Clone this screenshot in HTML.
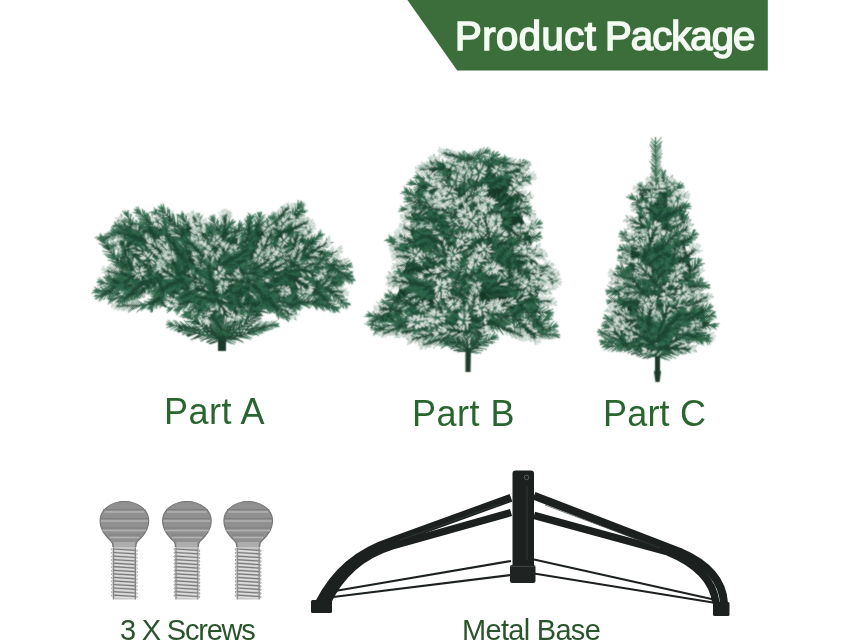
<!DOCTYPE html>
<html><head><meta charset="utf-8"><style>
html,body{margin:0;padding:0;width:857px;height:643px;overflow:hidden;background:#fff}
.t{position:absolute;font-family:"Liberation Sans",sans-serif;white-space:nowrap;line-height:1;will-change:transform}
svg{position:absolute;left:0;top:0}
</style></head><body>
<svg width="857" height="643" viewBox="0 0 857 643">
<defs><filter id="soft" filterUnits="userSpaceOnUse" x="0" y="100" width="857" height="300"><feConvolveMatrix order="3" kernelMatrix="1 2 1 2 8 2 1 2 1" divisor="20" edgeMode="none" preserveAlpha="false"/></filter><symbol id="n220" overflow="visible"><path d="M0,0L22,0M0.5,0.3l4.2,-2.7M0.5,0.1l4.1,2.7M2.5,0.2l4.2,-2.9M2.5,-0.3l4,1.9M5.1,0.4l3.1,-2.5M5.1,0.1l3.5,3.5M7.1,-0.4l4.3,-1.8M7.1,-0.4l3.7,1.9M9.3,0l4.2,-2.7M9.3,-0.2l3.5,2.7M12.1,-0.1l3.4,-3M12.1,-0.1l4.2,1.9M14.8,-0.2l2.3,-2.1M14.8,-0.3l2.6,2.6M16.9,0.4l3,-1.4M16.9,-0.4l2.7,1.4M19.3,0.2l2.4,-1.5M19.3,-0.2l2.8,1.3M21.8,-0.2l2.7,-1.5M21.8,0.4l1.8,1.4" stroke="#1b4431" stroke-width="0.9" fill="none"/><path d="M4.2,-2.1l4.6,-3M4.2,2.5l4.5,3M6.3,-2.4l4.6,-3.2M6.2,1.4l4.5,2.1M7.8,-1.8l3.4,-2.7M8.3,3.3l3.9,3.9M10.9,-2l4.7,-2M10.4,1.3l4.1,2.1M13.2,-2.5l4.6,-3M12.5,2.3l3.8,3M15.1,-2.9l3.7,-3.3M15.9,1.6l4.6,2.1M16.9,-2.1l2.5,-2.3M17.2,2l2.9,2.9M19.6,-0.9l3.3,-1.5M19.3,1l2.9,1.6M21.4,-1.2l2.6,-1.7M21.8,1l3.1,1.5M24.3,-1.6l3,-1.7M23.5,1.7l2,1.5M20,0l4.1,-0.9M20,0l2.9,-1.6M20,0l4,0.4M20,0l4.5,0.5M20,0l6.8,-0.4M20,0l5.3,-0.1M20,0l3.4,1.6M20,0l6.1,-2.7" stroke="#316a4d" stroke-width="0.8" fill="none"/></symbol><symbol id="k220" overflow="visible"><path d="M0,0L22,0M0.5,0.3l4.2,-2.7M0.5,0.1l4.1,2.7M2.5,0.2l4.2,-2.9M2.5,-0.3l4,1.9M5.1,0.4l3.1,-2.5M5.1,0.1l3.5,3.5M7.1,-0.4l4.3,-1.8M7.1,-0.4l3.7,1.9M9.3,0l4.2,-2.7M9.3,-0.2l3.5,2.7M12.1,-0.1l3.4,-3M12.1,-0.1l4.2,1.9M14.8,-0.2l2.3,-2.1M14.8,-0.3l2.6,2.6M16.9,0.4l3,-1.4M16.9,-0.4l2.7,1.4M19.3,0.2l2.4,-1.5M19.3,-0.2l2.8,1.3M21.8,-0.2l2.7,-1.5M21.8,0.4l1.8,1.4M4.2,-2.1l4.6,-3M4.2,2.5l4.5,3M6.3,-2.4l4.6,-3.2M6.2,1.4l4.5,2.1M7.8,-1.8l3.4,-2.7M8.3,3.3l3.9,3.9M10.9,-2l4.7,-2M10.4,1.3l4.1,2.1M13.2,-2.5l4.6,-3M12.5,2.3l3.8,3M15.1,-2.9l3.7,-3.3M15.9,1.6l4.6,2.1M16.9,-2.1l2.5,-2.3M17.2,2l2.9,2.9M19.6,-0.9l3.3,-1.5M19.3,1l2.9,1.6M21.4,-1.2l2.6,-1.7M21.8,1l3.1,1.5M24.3,-1.6l3,-1.7M23.5,1.7l2,1.5M20,0l4.1,-0.9M20,0l2.9,-1.6M20,0l4,0.4M20,0l4.5,0.5M20,0l6.8,-0.4M20,0l5.3,-0.1M20,0l3.4,1.6M20,0l6.1,-2.7" stroke="#1b4431" stroke-width="0.85" fill="none"/></symbol><symbol id="f220" overflow="visible"><path d="M0,0L22,0M0.5,0.3l4.2,-2.7M0.5,0.1l4.1,2.7M2.5,0.2l4.2,-2.9M2.5,-0.3l4,1.9M5.1,0.4l3.1,-2.5M5.1,0.1l3.5,3.5M7.1,-0.4l4.3,-1.8M7.1,-0.4l3.7,1.9M9.3,0l4.2,-2.7M9.3,-0.2l3.5,2.7M12.1,-0.1l3.4,-3M12.1,-0.1l4.2,1.9M14.8,-0.2l2.3,-2.1M14.8,-0.3l2.6,2.6M16.9,0.4l3,-1.4M16.9,-0.4l2.7,1.4M19.3,0.2l2.4,-1.5M19.3,-0.2l2.8,1.3M21.8,-0.2l2.7,-1.5M21.8,0.4l1.8,1.4" stroke="#1b4431" stroke-width="0.9" fill="none"/><path d="M4.2,-2.1l4.6,-3M4.2,2.5l4.5,3M6.3,-2.4l4.6,-3.2M6.2,1.4l4.5,2.1M7.8,-1.8l3.4,-2.7M8.3,3.3l3.9,3.9M10.9,-2l4.7,-2M10.4,1.3l4.1,2.1M13.2,-2.5l4.6,-3M12.5,2.3l3.8,3M15.1,-2.9l3.7,-3.3M15.9,1.6l4.6,2.1M16.9,-2.1l2.5,-2.3M17.2,2l2.9,2.9M19.6,-0.9l3.3,-1.5M19.3,1l2.9,1.6M21.4,-1.2l2.6,-1.7M21.8,1l3.1,1.5M24.3,-1.6l3,-1.7M23.5,1.7l2,1.5M20,0l4.1,-0.9M20,0l2.9,-1.6M20,0l4,0.4M20,0l4.5,0.5M20,0l6.8,-0.4M20,0l5.3,-0.1M20,0l3.4,1.6M20,0l6.1,-2.7" stroke="#316a4d" stroke-width="0.8" fill="none"/><path d="M12.9,-2.3l4.9,-3.2M14.6,-2.4l4.2,-3.8M15.4,1.4l5.1,2.3M16.8,-2l2.7,-2.5M17.4,2.3l2.6,2.7M18.9,-0.6l4.1,-1.9M18.7,0.6l3.5,1.9M21.4,-1.2l2.5,-1.7M22.3,1.2l2.5,1.2M24.6,-1.8l2.6,-1.5M23.2,1.4l2.3,1.8M21.4,-0.3l2.7,-0.6M21,-0.6l1.9,-1.1M21.4,0.1l2.6,0.3M21.6,0.2l2.9,0.4M22.4,-0.1l4.4,-0.2M21.9,-0l3.4,-0.1M21.2,0.6l2.2,1M22.1,-0.9l3.9,-1.7" stroke="#dce5e0" stroke-width="0.9" fill="none"/></symbol><symbol id="n221" overflow="visible"><path d="M0,0L22,0M0.5,-0.2l3.3,-2.9M0.5,-0.2l4.3,3.6M3.2,-0.1l3.6,-3.4M3.2,0.4l3.6,1.7M5.3,0.3l3.3,-2.7M5.3,-0.3l3.5,2.6M7.8,0l3.7,-1.7M7.8,-0.2l3.5,3.2M10.5,-0.2l3.2,-1.7M10.5,0.1l3.7,1.9M13.1,0.2l3,-3.1M13.1,0.3l3.1,1.3M15,0.2l3,-2.3M15,0.2l3.6,1.6M17.5,-0.1l3,-2.6M17.5,0.2l2.5,2.3M19.9,0.1l2.7,-1.7M19.9,0.2l2.5,2.5" stroke="#1b4431" stroke-width="0.9" fill="none"/><path d="M3.5,-2.9l3.6,-3.2M4.4,3l4.8,4M6.5,-3.1l4,-3.8M6.4,1.9l3.9,1.9M8.3,-2.2l3.7,-3M8.4,2.1l3.9,2.9M11.1,-1.5l4.1,-1.9M11,2.7l3.9,3.6M13.3,-1.7l3.5,-1.8M13.8,1.7l4.1,2.1M15.9,-2.6l3.3,-3.4M15.9,1.5l3.4,1.5M17.7,-1.9l3.3,-2.6M18.2,1.7l3.9,1.8M20.2,-2.5l3.3,-2.9M19.7,2.3l2.7,2.5M22.3,-1.4l3,-1.8M22.1,2.4l2.7,2.8M20,0l6.3,-0.5M20,0l5.3,-2.9M20,0l4.6,-2.9M20,0l3.9,-0.1M20,0l4.8,1.2M20,0l6.6,0.9M20,0l2.9,-0.9M20,0l5.6,-1.4" stroke="#316a4d" stroke-width="0.8" fill="none"/></symbol><symbol id="k221" overflow="visible"><path d="M0,0L22,0M0.5,-0.2l3.3,-2.9M0.5,-0.2l4.3,3.6M3.2,-0.1l3.6,-3.4M3.2,0.4l3.6,1.7M5.3,0.3l3.3,-2.7M5.3,-0.3l3.5,2.6M7.8,0l3.7,-1.7M7.8,-0.2l3.5,3.2M10.5,-0.2l3.2,-1.7M10.5,0.1l3.7,1.9M13.1,0.2l3,-3.1M13.1,0.3l3.1,1.3M15,0.2l3,-2.3M15,0.2l3.6,1.6M17.5,-0.1l3,-2.6M17.5,0.2l2.5,2.3M19.9,0.1l2.7,-1.7M19.9,0.2l2.5,2.5M3.5,-2.9l3.6,-3.2M4.4,3l4.8,4M6.5,-3.1l4,-3.8M6.4,1.9l3.9,1.9M8.3,-2.2l3.7,-3M8.4,2.1l3.9,2.9M11.1,-1.5l4.1,-1.9M11,2.7l3.9,3.6M13.3,-1.7l3.5,-1.8M13.8,1.7l4.1,2.1M15.9,-2.6l3.3,-3.4M15.9,1.5l3.4,1.5M17.7,-1.9l3.3,-2.6M18.2,1.7l3.9,1.8M20.2,-2.5l3.3,-2.9M19.7,2.3l2.7,2.5M22.3,-1.4l3,-1.8M22.1,2.4l2.7,2.8M20,0l6.3,-0.5M20,0l5.3,-2.9M20,0l4.6,-2.9M20,0l3.9,-0.1M20,0l4.8,1.2M20,0l6.6,0.9M20,0l2.9,-0.9M20,0l5.6,-1.4" stroke="#1b4431" stroke-width="0.85" fill="none"/></symbol><symbol id="f221" overflow="visible"><path d="M0,0L22,0M0.5,-0.2l3.3,-2.9M0.5,-0.2l4.3,3.6M3.2,-0.1l3.6,-3.4M3.2,0.4l3.6,1.7M5.3,0.3l3.3,-2.7M5.3,-0.3l3.5,2.6M7.8,0l3.7,-1.7M7.8,-0.2l3.5,3.2M10.5,-0.2l3.2,-1.7M10.5,0.1l3.7,1.9M13.1,0.2l3,-3.1M13.1,0.3l3.1,1.3M15,0.2l3,-2.3M15,0.2l3.6,1.6M17.5,-0.1l3,-2.6M17.5,0.2l2.5,2.3M19.9,0.1l2.7,-1.7M19.9,0.2l2.5,2.5" stroke="#1b4431" stroke-width="0.9" fill="none"/><path d="M3.5,-2.9l3.6,-3.2M4.4,3l4.8,4M6.5,-3.1l4,-3.8M6.4,1.9l3.9,1.9M8.3,-2.2l3.7,-3M8.4,2.1l3.9,2.9M11.1,-1.5l4.1,-1.9M11,2.7l3.9,3.6M13.3,-1.7l3.5,-1.8M13.8,1.7l4.1,2.1M15.9,-2.6l3.3,-3.4M15.9,1.5l3.4,1.5M17.7,-1.9l3.3,-2.6M18.2,1.7l3.9,1.8M20.2,-2.5l3.3,-2.9M19.7,2.3l2.7,2.5M22.3,-1.4l3,-1.8M22.1,2.4l2.7,2.8M20,0l6.3,-0.5M20,0l5.3,-2.9M20,0l4.6,-2.9M20,0l3.9,-0.1M20,0l4.8,1.2M20,0l6.6,0.9M20,0l2.9,-0.9M20,0l5.6,-1.4" stroke="#316a4d" stroke-width="0.8" fill="none"/><path d="M12.5,-1.2l4.3,-2.3M13.3,1.5l4.5,2.3M15.2,-1.9l4,-4.1M16.4,1.8l2.8,1.2M18.3,-2.4l2.7,-2.1M18.4,1.8l3.7,1.7M20.7,-2.9l2.9,-2.5M19.7,2.3l2.7,2.6M22.4,-1.4l2.9,-1.8M22.3,2.6l2.5,2.6M22.2,-0.2l4.1,-0.3M21.8,-1l3.4,-1.9M21.6,-1l3,-1.9M21.4,-0l2.5,-0.1M21.7,0.4l3.2,0.8M22.3,0.3l4.3,0.6M21,-0.3l1.9,-0.6M21.9,-0.5l3.6,-0.9" stroke="#dce5e0" stroke-width="0.9" fill="none"/></symbol><symbol id="n300" overflow="visible"><path d="M0,0L30,0M0.5,0.3l3.8,-2M0.5,0.3l3.7,2.9M2.6,-0.1l3.4,-2.7M2.6,0.3l4.2,3.7M4.8,-0.3l3.6,-2.6M4.8,0.3l4.5,3M7.3,-0.3l3.1,-3M7.3,-0.2l3.6,2.4M9.5,-0.1l3.7,-2.8M9.5,-0l4.1,3.7M11.5,-0.4l4.7,-2.1M11.5,-0.4l4.4,2.5M13.3,-0.3l3,-2.7M13.3,0.1l3.9,2.5M15.8,-0.3l3.7,-1.9M15.8,-0.2l2.9,2.4M18.1,-0.1l3.6,-2.7M18.1,0.2l4.3,2M20.5,0.1l2.6,-2.5M20.5,0.1l2.7,2.7M23.1,-0.2l3.1,-2.4M23.1,0.2l2.5,2.6M25.7,-0l2.3,-1.4M25.7,0.2l2.2,1.5M27.7,-0.3l2.9,-1.7M27.7,0.2l2.6,2.1" stroke="#1b4431" stroke-width="0.9" fill="none"/><path d="M3.9,-1.4l4.1,-2.2M3.9,2.9l4.1,3.2M5.7,-2.4l3.7,-2.9M6.4,3.6l4.6,4.1M8.1,-2.7l4,-2.9M8.9,3l4.9,3.4M10.1,-3l3.4,-3.3M10.6,1.9l4,2.6M12.9,-2.7l4,-3.1M13.2,3.3l4.5,4M15.7,-2.2l5.2,-2.3M15.4,1.9l4.8,2.8M16,-2.7l3.3,-2.9M16.8,2.4l4.3,2.8M19.2,-2l4.1,-2.1M18.4,1.9l3.2,2.6M21.3,-2.5l3.9,-2.9M22,2l4.7,2.2M22.9,-2.2l2.9,-2.8M22.9,2.5l3,2.9M25.9,-2.3l3.4,-2.6M25.4,2.5l2.8,2.8M27.9,-1.3l2.6,-1.5M27.7,1.6l2.4,1.6M30.3,-1.8l3.1,-1.9M30.1,2.1l2.9,2.4M28,0l3.4,-1.9M28,0l4.2,0.1M28,0l5.3,1.5M28,0l6.4,0.2M28,0l4.2,0.3M28,0l6.3,-0.9M28,0l3.4,1.8M28,0l6.3,2.8" stroke="#316a4d" stroke-width="0.8" fill="none"/></symbol><symbol id="k300" overflow="visible"><path d="M0,0L30,0M0.5,0.3l3.8,-2M0.5,0.3l3.7,2.9M2.6,-0.1l3.4,-2.7M2.6,0.3l4.2,3.7M4.8,-0.3l3.6,-2.6M4.8,0.3l4.5,3M7.3,-0.3l3.1,-3M7.3,-0.2l3.6,2.4M9.5,-0.1l3.7,-2.8M9.5,-0l4.1,3.7M11.5,-0.4l4.7,-2.1M11.5,-0.4l4.4,2.5M13.3,-0.3l3,-2.7M13.3,0.1l3.9,2.5M15.8,-0.3l3.7,-1.9M15.8,-0.2l2.9,2.4M18.1,-0.1l3.6,-2.7M18.1,0.2l4.3,2M20.5,0.1l2.6,-2.5M20.5,0.1l2.7,2.7M23.1,-0.2l3.1,-2.4M23.1,0.2l2.5,2.6M25.7,-0l2.3,-1.4M25.7,0.2l2.2,1.5M27.7,-0.3l2.9,-1.7M27.7,0.2l2.6,2.1M3.9,-1.4l4.1,-2.2M3.9,2.9l4.1,3.2M5.7,-2.4l3.7,-2.9M6.4,3.6l4.6,4.1M8.1,-2.7l4,-2.9M8.9,3l4.9,3.4M10.1,-3l3.4,-3.3M10.6,1.9l4,2.6M12.9,-2.7l4,-3.1M13.2,3.3l4.5,4M15.7,-2.2l5.2,-2.3M15.4,1.9l4.8,2.8M16,-2.7l3.3,-2.9M16.8,2.4l4.3,2.8M19.2,-2l4.1,-2.1M18.4,1.9l3.2,2.6M21.3,-2.5l3.9,-2.9M22,2l4.7,2.2M22.9,-2.2l2.9,-2.8M22.9,2.5l3,2.9M25.9,-2.3l3.4,-2.6M25.4,2.5l2.8,2.8M27.9,-1.3l2.6,-1.5M27.7,1.6l2.4,1.6M30.3,-1.8l3.1,-1.9M30.1,2.1l2.9,2.4M28,0l3.4,-1.9M28,0l4.2,0.1M28,0l5.3,1.5M28,0l6.4,0.2M28,0l4.2,0.3M28,0l6.3,-0.9M28,0l3.4,1.8M28,0l6.3,2.8" stroke="#1b4431" stroke-width="0.85" fill="none"/></symbol><symbol id="f300" overflow="visible"><path d="M0,0L30,0M0.5,0.3l3.8,-2M0.5,0.3l3.7,2.9M2.6,-0.1l3.4,-2.7M2.6,0.3l4.2,3.7M4.8,-0.3l3.6,-2.6M4.8,0.3l4.5,3M7.3,-0.3l3.1,-3M7.3,-0.2l3.6,2.4M9.5,-0.1l3.7,-2.8M9.5,-0l4.1,3.7M11.5,-0.4l4.7,-2.1M11.5,-0.4l4.4,2.5M13.3,-0.3l3,-2.7M13.3,0.1l3.9,2.5M15.8,-0.3l3.7,-1.9M15.8,-0.2l2.9,2.4M18.1,-0.1l3.6,-2.7M18.1,0.2l4.3,2M20.5,0.1l2.6,-2.5M20.5,0.1l2.7,2.7M23.1,-0.2l3.1,-2.4M23.1,0.2l2.5,2.6M25.7,-0l2.3,-1.4M25.7,0.2l2.2,1.5M27.7,-0.3l2.9,-1.7M27.7,0.2l2.6,2.1" stroke="#1b4431" stroke-width="0.9" fill="none"/><path d="M3.9,-1.4l4.1,-2.2M3.9,2.9l4.1,3.2M5.7,-2.4l3.7,-2.9M6.4,3.6l4.6,4.1M8.1,-2.7l4,-2.9M8.9,3l4.9,3.4M10.1,-3l3.4,-3.3M10.6,1.9l4,2.6M12.9,-2.7l4,-3.1M13.2,3.3l4.5,4M15.7,-2.2l5.2,-2.3M15.4,1.9l4.8,2.8M16,-2.7l3.3,-2.9M16.8,2.4l4.3,2.8M19.2,-2l4.1,-2.1M18.4,1.9l3.2,2.6M21.3,-2.5l3.9,-2.9M22,2l4.7,2.2M22.9,-2.2l2.9,-2.8M22.9,2.5l3,2.9M25.9,-2.3l3.4,-2.6M25.4,2.5l2.8,2.8M27.9,-1.3l2.6,-1.5M27.7,1.6l2.4,1.6M30.3,-1.8l3.1,-1.9M30.1,2.1l2.9,2.4M28,0l3.4,-1.9M28,0l4.2,0.1M28,0l5.3,1.5M28,0l6.4,0.2M28,0l4.2,0.3M28,0l6.3,-0.9M28,0l3.4,1.8M28,0l6.3,2.8" stroke="#316a4d" stroke-width="0.8" fill="none"/><path d="M15.7,-2.2l5.3,-2.3M15.1,1.7l5.1,3M16,-2.7l3.2,-2.9M17.5,2.9l3.6,2.3M18.9,-1.9l4.3,-2.3M18.5,2.1l3,2.5M21.9,-2.9l3.4,-2.5M21.7,1.8l5,2.3M23.2,-2.5l2.6,-2.5M23.1,2.7l2.8,2.8M26.4,-2.8l2.8,-2.1M25.8,2.9l2.4,2.4M28.1,-1.4l2.4,-1.4M28,1.7l2.2,1.5M30.2,-1.7l3.3,-1.9M29.9,2l3,2.5M29.2,-0.6l2.2,-1.2M29.5,0l2.7,0.1M29.9,0.5l3.5,1M30.2,0.1l4.1,0.1M29.5,0.1l2.8,0.2M30.2,-0.3l4.1,-0.6M29.2,0.6l2.2,1.2M30.2,1l4.1,1.8" stroke="#dce5e0" stroke-width="0.9" fill="none"/></symbol><symbol id="n301" overflow="visible"><path d="M0,0L30,0M0.5,-0.2l4.1,-2.9M0.5,0.1l4,2.8M2.4,-0.1l3.4,-3.5M2.4,-0l3.7,3.3M4.8,-0.1l4.4,-2M4.8,-0.2l3.9,3.9M7.1,0.3l4.2,-2M7.1,-0.1l3.4,3.2M9.1,-0.3l4.3,-3.3M9.1,-0.2l2.9,2.5M11.2,-0.1l3.3,-2.7M11.2,0.2l3.1,2.3M13.1,-0.2l3.3,-2.3M13.1,0l3.7,2.2M15.6,0.3l3.4,-2.6M15.6,0.2l4.1,2.2M17.7,0.4l2.6,-2.5M17.7,-0.2l3.9,2.1M19.9,-0.1l2.5,-2.2M19.9,0.3l3.7,1.9M21.9,0l3.3,-2.3M21.9,-0.4l2.9,1.3M24.2,-0.2l2.7,-1.3M24.2,-0.4l2.1,2M26.5,-0l2.2,-1.9M26.5,0.2l2.1,1.5M28.7,-0.2l2.1,-1.8M28.7,0.2l3,1.3" stroke="#1b4431" stroke-width="0.9" fill="none"/><path d="M4.2,-2.8l4.5,-3.1M4.1,2.6l4.4,3.1M5.5,-3.2l3.8,-3.8M5.7,2.9l4.1,3.6M8.8,-1.9l4.9,-2.2M8.4,3.3l4.3,4.3M10.9,-1.6l4.6,-2.2M10.2,2.8l3.7,3.6M13,-3.2l4.7,-3.6M11.7,2l3.2,2.7M14.2,-2.5l3.6,-2.9M14,2.3l3.4,2.6M16.1,-2.3l3.6,-2.5M16.4,2l4,2.5M18.6,-2.1l3.8,-2.9M19.2,2.2l4.5,2.4M20.1,-1.9l2.9,-2.8M21.2,1.7l4.3,2.3M22.2,-2.1l2.8,-2.4M23.2,2.1l4.1,2.1M24.9,-2.1l3.7,-2.5M24.4,0.8l3.1,1.4M26.7,-1.4l3,-1.5M26.1,1.5l2.3,2.2M28.5,-1.7l2.5,-2.1M28.3,1.5l2.3,1.7M30.6,-1.8l2.3,-1.9M31.5,1.4l3.3,1.4M28,0l5.4,-0.6M28,0l6.9,0M28,0l3.8,1.4M28,0l5.3,2.8M28,0l5.9,2M28,0l6.5,-0.7M28,0l5.2,2.5M28,0l5.8,1.9" stroke="#316a4d" stroke-width="0.8" fill="none"/></symbol><symbol id="k301" overflow="visible"><path d="M0,0L30,0M0.5,-0.2l4.1,-2.9M0.5,0.1l4,2.8M2.4,-0.1l3.4,-3.5M2.4,-0l3.7,3.3M4.8,-0.1l4.4,-2M4.8,-0.2l3.9,3.9M7.1,0.3l4.2,-2M7.1,-0.1l3.4,3.2M9.1,-0.3l4.3,-3.3M9.1,-0.2l2.9,2.5M11.2,-0.1l3.3,-2.7M11.2,0.2l3.1,2.3M13.1,-0.2l3.3,-2.3M13.1,0l3.7,2.2M15.6,0.3l3.4,-2.6M15.6,0.2l4.1,2.2M17.7,0.4l2.6,-2.5M17.7,-0.2l3.9,2.1M19.9,-0.1l2.5,-2.2M19.9,0.3l3.7,1.9M21.9,0l3.3,-2.3M21.9,-0.4l2.9,1.3M24.2,-0.2l2.7,-1.3M24.2,-0.4l2.1,2M26.5,-0l2.2,-1.9M26.5,0.2l2.1,1.5M28.7,-0.2l2.1,-1.8M28.7,0.2l3,1.3M4.2,-2.8l4.5,-3.1M4.1,2.6l4.4,3.1M5.5,-3.2l3.8,-3.8M5.7,2.9l4.1,3.6M8.8,-1.9l4.9,-2.2M8.4,3.3l4.3,4.3M10.9,-1.6l4.6,-2.2M10.2,2.8l3.7,3.6M13,-3.2l4.7,-3.6M11.7,2l3.2,2.7M14.2,-2.5l3.6,-2.9M14,2.3l3.4,2.6M16.1,-2.3l3.6,-2.5M16.4,2l4,2.5M18.6,-2.1l3.8,-2.9M19.2,2.2l4.5,2.4M20.1,-1.9l2.9,-2.8M21.2,1.7l4.3,2.3M22.2,-2.1l2.8,-2.4M23.2,2.1l4.1,2.1M24.9,-2.1l3.7,-2.5M24.4,0.8l3.1,1.4M26.7,-1.4l3,-1.5M26.1,1.5l2.3,2.2M28.5,-1.7l2.5,-2.1M28.3,1.5l2.3,1.7M30.6,-1.8l2.3,-1.9M31.5,1.4l3.3,1.4M28,0l5.4,-0.6M28,0l6.9,0M28,0l3.8,1.4M28,0l5.3,2.8M28,0l5.9,2M28,0l6.5,-0.7M28,0l5.2,2.5M28,0l5.8,1.9" stroke="#1b4431" stroke-width="0.85" fill="none"/></symbol><symbol id="f301" overflow="visible"><path d="M0,0L30,0M0.5,-0.2l4.1,-2.9M0.5,0.1l4,2.8M2.4,-0.1l3.4,-3.5M2.4,-0l3.7,3.3M4.8,-0.1l4.4,-2M4.8,-0.2l3.9,3.9M7.1,0.3l4.2,-2M7.1,-0.1l3.4,3.2M9.1,-0.3l4.3,-3.3M9.1,-0.2l2.9,2.5M11.2,-0.1l3.3,-2.7M11.2,0.2l3.1,2.3M13.1,-0.2l3.3,-2.3M13.1,0l3.7,2.2M15.6,0.3l3.4,-2.6M15.6,0.2l4.1,2.2M17.7,0.4l2.6,-2.5M17.7,-0.2l3.9,2.1M19.9,-0.1l2.5,-2.2M19.9,0.3l3.7,1.9M21.9,0l3.3,-2.3M21.9,-0.4l2.9,1.3M24.2,-0.2l2.7,-1.3M24.2,-0.4l2.1,2M26.5,-0l2.2,-1.9M26.5,0.2l2.1,1.5M28.7,-0.2l2.1,-1.8M28.7,0.2l3,1.3" stroke="#1b4431" stroke-width="0.9" fill="none"/><path d="M4.2,-2.8l4.5,-3.1M4.1,2.6l4.4,3.1M5.5,-3.2l3.8,-3.8M5.7,2.9l4.1,3.6M8.8,-1.9l4.9,-2.2M8.4,3.3l4.3,4.3M10.9,-1.6l4.6,-2.2M10.2,2.8l3.7,3.6M13,-3.2l4.7,-3.6M11.7,2l3.2,2.7M14.2,-2.5l3.6,-2.9M14,2.3l3.4,2.6M16.1,-2.3l3.6,-2.5M16.4,2l4,2.5M18.6,-2.1l3.8,-2.9M19.2,2.2l4.5,2.4M20.1,-1.9l2.9,-2.8M21.2,1.7l4.3,2.3M22.2,-2.1l2.8,-2.4M23.2,2.1l4.1,2.1M24.9,-2.1l3.7,-2.5M24.4,0.8l3.1,1.4M26.7,-1.4l3,-1.5M26.1,1.5l2.3,2.2M28.5,-1.7l2.5,-2.1M28.3,1.5l2.3,1.7M30.6,-1.8l2.3,-1.9M31.5,1.4l3.3,1.4M28,0l5.4,-0.6M28,0l6.9,0M28,0l3.8,1.4M28,0l5.3,2.8M28,0l5.9,2M28,0l6.5,-0.7M28,0l5.2,2.5M28,0l5.8,1.9" stroke="#316a4d" stroke-width="0.8" fill="none"/><path d="M15.8,-2.1l3.9,-2.7M15.7,1.6l4.7,2.9M19.1,-2.4l3.3,-2.6M18.7,1.9l5.1,2.7M19.4,-1.3l3.5,-3.4M21.7,2l3.8,2.1M21.4,-1.4l3.5,-3.1M24.2,-1.6l4.4,-3M24.3,0.7l3.3,1.5M27.2,-1.7l2.5,-1.2M28.3,-1.6l2.7,-2.3M27.9,1.2l2.7,2M30.6,-1.8l2.4,-2M31.8,1.6l2.9,1.3M29.9,-0.2l3.5,-0.4M30.4,0l4.5,0M29.3,0.5l2.4,0.9M29.8,1l3.4,1.8M30.1,0.7l3.8,1.3M30.3,-0.3l4.3,-0.5M29.8,0.9l3.4,1.7M30,0.7l3.7,1.2" stroke="#dce5e0" stroke-width="0.9" fill="none"/></symbol><symbol id="n380" overflow="visible"><path d="M0,0L38,0M0.5,-0.3l4.5,-2.8M0.5,-0.4l4.1,2.5M2.7,-0.2l4,-3.1M2.7,-0.1l3.7,3.6M5.1,-0.1l3.9,-2.9M5.1,0.2l3.5,3.6M7.7,0.1l2.7,-2.8M7.7,-0.1l3.3,2.8M9.5,-0.3l4,-2.1M9.5,0l4.8,2.6M11.8,0.4l3.4,-3.4M11.8,-0.3l4.1,3.2M14.2,0.3l2.9,-2.4M14.2,-0.3l4,2M16.5,0.4l3,-2.2M16.5,-0.2l3.4,2.5M18.6,-0.4l3.1,-2.5M18.6,-0.1l4.2,2.1M20.5,-0.3l3.4,-3.5M20.5,-0.2l4.1,2.8M23,0.3l4,-2.7M23,-0.2l3.2,2.4M25,-0l3.5,-2.3M25,0l3.6,2.3M27.7,-0.3l2.6,-2.1M27.7,-0.2l2.8,2.1M30.1,-0.2l3,-2.3M30.1,-0.4l2.9,2.8M32.3,0l2.2,-1.7M32.3,0.1l2.6,2.1M34.3,0.3l2.9,-1.7M34.3,0.2l2.4,2.1M36.4,0.1l2,-1.8M36.4,0.2l2.5,1.5" stroke="#1b4431" stroke-width="0.9" fill="none"/><path d="M4.5,-2.9l4.9,-3.1M4.2,1.8l4.5,2.7M6.3,-3l4.4,-3.4M6,3.1l4,4M8.7,-2.7l4.3,-3.2M8.3,3.4l3.9,4M10.1,-2.4l3,-3.1M10.6,2.4l3.7,3.1M13.1,-2.2l4.4,-2.3M13.8,2.4l5.3,2.9M14.9,-2.6l3.7,-3.7M15.6,2.5l4.5,3.5M16.8,-1.8l3.2,-2.7M17.9,1.5l4.4,2.2M19.2,-1.6l3.3,-2.4M19.6,2.1l3.7,2.8M21.4,-2.7l3.4,-2.8M22.5,1.8l4.7,2.3M23.6,-3.5l3.8,-3.9M24.2,2.3l4.5,3M26.6,-2.1l4.4,-2.9M25.9,1.9l3.5,2.7M28.1,-2.1l3.8,-2.5M28.3,2.1l4,2.6M30,-2.2l2.8,-2.3M30.2,1.7l3.1,2.3M32.8,-2.3l3.3,-2.6M32.7,2.1l3.2,3M34.3,-1.5l2.4,-1.9M34.7,2l2.9,2.3M36.9,-1.3l3.2,-1.9M36.5,2.1l2.6,2.3M38.2,-1.5l2.2,-2M38.7,1.5l2.8,1.6M36,0l5.8,-3M36,0l2.9,-1.6M36,0l4.9,0.4M36,0l4.1,0.9M36,0l3.1,1.1M36,0l5.3,-1.9M36,0l3.7,-2M36,0l5.6,1.5" stroke="#316a4d" stroke-width="0.8" fill="none"/></symbol><symbol id="k380" overflow="visible"><path d="M0,0L38,0M0.5,-0.3l4.5,-2.8M0.5,-0.4l4.1,2.5M2.7,-0.2l4,-3.1M2.7,-0.1l3.7,3.6M5.1,-0.1l3.9,-2.9M5.1,0.2l3.5,3.6M7.7,0.1l2.7,-2.8M7.7,-0.1l3.3,2.8M9.5,-0.3l4,-2.1M9.5,0l4.8,2.6M11.8,0.4l3.4,-3.4M11.8,-0.3l4.1,3.2M14.2,0.3l2.9,-2.4M14.2,-0.3l4,2M16.5,0.4l3,-2.2M16.5,-0.2l3.4,2.5M18.6,-0.4l3.1,-2.5M18.6,-0.1l4.2,2.1M20.5,-0.3l3.4,-3.5M20.5,-0.2l4.1,2.8M23,0.3l4,-2.7M23,-0.2l3.2,2.4M25,-0l3.5,-2.3M25,0l3.6,2.3M27.7,-0.3l2.6,-2.1M27.7,-0.2l2.8,2.1M30.1,-0.2l3,-2.3M30.1,-0.4l2.9,2.8M32.3,0l2.2,-1.7M32.3,0.1l2.6,2.1M34.3,0.3l2.9,-1.7M34.3,0.2l2.4,2.1M36.4,0.1l2,-1.8M36.4,0.2l2.5,1.5M4.5,-2.9l4.9,-3.1M4.2,1.8l4.5,2.7M6.3,-3l4.4,-3.4M6,3.1l4,4M8.7,-2.7l4.3,-3.2M8.3,3.4l3.9,4M10.1,-2.4l3,-3.1M10.6,2.4l3.7,3.1M13.1,-2.2l4.4,-2.3M13.8,2.4l5.3,2.9M14.9,-2.6l3.7,-3.7M15.6,2.5l4.5,3.5M16.8,-1.8l3.2,-2.7M17.9,1.5l4.4,2.2M19.2,-1.6l3.3,-2.4M19.6,2.1l3.7,2.8M21.4,-2.7l3.4,-2.8M22.5,1.8l4.7,2.3M23.6,-3.5l3.8,-3.9M24.2,2.3l4.5,3M26.6,-2.1l4.4,-2.9M25.9,1.9l3.5,2.7M28.1,-2.1l3.8,-2.5M28.3,2.1l4,2.6M30,-2.2l2.8,-2.3M30.2,1.7l3.1,2.3M32.8,-2.3l3.3,-2.6M32.7,2.1l3.2,3M34.3,-1.5l2.4,-1.9M34.7,2l2.9,2.3M36.9,-1.3l3.2,-1.9M36.5,2.1l2.6,2.3M38.2,-1.5l2.2,-2M38.7,1.5l2.8,1.6M36,0l5.8,-3M36,0l2.9,-1.6M36,0l4.9,0.4M36,0l4.1,0.9M36,0l3.1,1.1M36,0l5.3,-1.9M36,0l3.7,-2M36,0l5.6,1.5" stroke="#1b4431" stroke-width="0.85" fill="none"/></symbol><symbol id="f380" overflow="visible"><path d="M0,0L38,0M0.5,-0.3l4.5,-2.8M0.5,-0.4l4.1,2.5M2.7,-0.2l4,-3.1M2.7,-0.1l3.7,3.6M5.1,-0.1l3.9,-2.9M5.1,0.2l3.5,3.6M7.7,0.1l2.7,-2.8M7.7,-0.1l3.3,2.8M9.5,-0.3l4,-2.1M9.5,0l4.8,2.6M11.8,0.4l3.4,-3.4M11.8,-0.3l4.1,3.2M14.2,0.3l2.9,-2.4M14.2,-0.3l4,2M16.5,0.4l3,-2.2M16.5,-0.2l3.4,2.5M18.6,-0.4l3.1,-2.5M18.6,-0.1l4.2,2.1M20.5,-0.3l3.4,-3.5M20.5,-0.2l4.1,2.8M23,0.3l4,-2.7M23,-0.2l3.2,2.4M25,-0l3.5,-2.3M25,0l3.6,2.3M27.7,-0.3l2.6,-2.1M27.7,-0.2l2.8,2.1M30.1,-0.2l3,-2.3M30.1,-0.4l2.9,2.8M32.3,0l2.2,-1.7M32.3,0.1l2.6,2.1M34.3,0.3l2.9,-1.7M34.3,0.2l2.4,2.1M36.4,0.1l2,-1.8M36.4,0.2l2.5,1.5" stroke="#1b4431" stroke-width="0.9" fill="none"/><path d="M4.5,-2.9l4.9,-3.1M4.2,1.8l4.5,2.7M6.3,-3l4.4,-3.4M6,3.1l4,4M8.7,-2.7l4.3,-3.2M8.3,3.4l3.9,4M10.1,-2.4l3,-3.1M10.6,2.4l3.7,3.1M13.1,-2.2l4.4,-2.3M13.8,2.4l5.3,2.9M14.9,-2.6l3.7,-3.7M15.6,2.5l4.5,3.5M16.8,-1.8l3.2,-2.7M17.9,1.5l4.4,2.2M19.2,-1.6l3.3,-2.4M19.6,2.1l3.7,2.8M21.4,-2.7l3.4,-2.8M22.5,1.8l4.7,2.3M23.6,-3.5l3.8,-3.9M24.2,2.3l4.5,3M26.6,-2.1l4.4,-2.9M25.9,1.9l3.5,2.7M28.1,-2.1l3.8,-2.5M28.3,2.1l4,2.6M30,-2.2l2.8,-2.3M30.2,1.7l3.1,2.3M32.8,-2.3l3.3,-2.6M32.7,2.1l3.2,3M34.3,-1.5l2.4,-1.9M34.7,2l2.9,2.3M36.9,-1.3l3.2,-1.9M36.5,2.1l2.6,2.3M38.2,-1.5l2.2,-2M38.7,1.5l2.8,1.6M36,0l5.8,-3M36,0l2.9,-1.6M36,0l4.9,0.4M36,0l4.1,0.9M36,0l3.1,1.1M36,0l5.3,-1.9M36,0l3.7,-2M36,0l5.6,1.5" stroke="#316a4d" stroke-width="0.8" fill="none"/><path d="M19.1,-1.6l3.4,-2.5M19.5,2l3.8,2.8M20.6,-2l4.3,-3.5M22.8,2l4.4,2.2M23.3,-3.2l4.1,-4.2M24.9,2.8l3.8,2.6M25.6,-1.5l5.4,-3.6M25.8,1.8l3.6,2.7M28.1,-2.1l3.9,-2.5M30.2,-2.4l2.6,-2.1M30.2,1.7l3.1,2.4M33.4,-2.8l2.8,-2.1M32.2,1.7l3.6,3.5M33.7,-1l3,-2.3M34.5,1.8l3,2.4M36.2,-0.9l3.9,-2.3M36.3,1.9l2.9,2.5M38.5,1.4l3,1.7M38,-1.1l3.7,-2M37,-0.6l1.9,-1M37.7,0.1l3.2,0.2M37.4,0.3l2.7,0.6M37.1,0.4l2,0.7M37.9,-0.7l3.5,-1.2M37.3,-0.7l2.4,-1.3M37.9,0.5l3.6,1" stroke="#dce5e0" stroke-width="0.9" fill="none"/></symbol><symbol id="n381" overflow="visible"><path d="M0,0L38,0M0.5,-0.1l3.7,-2.1M0.5,-0.3l3.6,2.9M3,0.4l4.5,-3.3M3,0.2l3.4,3.3M5.1,0.3l4,-2.3M5.1,-0.1l3.2,3M7.3,-0.1l3.9,-2.4M7.3,0.2l4.3,2.2M9.6,-0.3l3.6,-3.2M9.6,-0.2l4.1,3.5M11.5,0.1l3.9,-2.7M11.5,0.2l3.5,3.5M13.4,-0.3l4.1,-2.9M13.4,0.3l4.5,2.1M15.3,0.2l3.1,-2.4M15.3,0l4.4,2.3M17.5,-0l3.3,-3.3M17.5,-0.1l3.9,3.2M20.1,0.3l3.6,-3.2M20.1,0.2l3.4,2.6M22.3,0.4l4,-2M22.3,-0.2l3.5,1.8M24.2,0.1l2.9,-1.7M24.2,0.1l3.6,1.6M26.1,-0.2l3,-1.6M26.1,-0.2l3,1.6M28.3,-0l3.3,-2.4M28.3,0l2.5,2.4M30.6,0.4l2.5,-1.3M30.6,-0.2l2.8,2M33,-0l2.3,-1.2M33,-0.3l2.6,2.1M35.1,0.1l2.2,-2M35.1,-0.3l2.7,1.5M37.7,-0.3l2.2,-2M37.7,-0l2.4,1.1" stroke="#1b4431" stroke-width="0.9" fill="none"/><path d="M3.8,-2l4,-2.3M3.7,2.3l3.9,3.2M7.1,-2.6l5,-3.6M6.1,3.2l3.8,3.6M8.7,-1.7l4.4,-2.6M8,2.6l3.5,3.3M10.8,-2.2l4.3,-2.6M11.2,2.3l4.8,2.5M12.9,-3.2l3.9,-3.6M13.3,3l4.5,3.8M15,-2.4l4.3,-3M14.6,3.4l3.8,3.8M17.1,-3l4.6,-3.2M17.5,2.2l5,2.3M18.1,-1.9l3.4,-2.6M19.2,2.1l4.8,2.6M20.4,-3l3.6,-3.6M21,2.8l4.3,3.5M23.3,-2.5l3.9,-3.5M23.1,2.5l3.7,2.9M25.9,-1.4l4.4,-2.2M25.5,1.5l3.9,2M26.8,-1.4l3.2,-1.9M27.4,1.5l3.9,1.8M28.9,-1.6l3.3,-1.7M28.8,1.2l3.3,1.7M31.3,-2.2l3.7,-2.6M30.5,2.2l2.7,2.6M32.8,-0.8l2.8,-1.5M33.1,1.6l3.1,2.2M35.1,-1.1l2.5,-1.4M35.3,1.6l2.8,2.3M37.1,-1.7l2.4,-2.3M37.5,1l2.9,1.6M39.7,-2.2l2.5,-2.3M39.9,1l2.7,1.3M36,0l3.8,1.8M36,0l4.4,1.6M36,0l3,1.6M36,0l3.5,1.5M36,0l5.1,0.3M36,0l5.8,-2.5M36,0l4.1,-1M36,0l3.7,-2.1" stroke="#316a4d" stroke-width="0.8" fill="none"/></symbol><symbol id="k381" overflow="visible"><path d="M0,0L38,0M0.5,-0.1l3.7,-2.1M0.5,-0.3l3.6,2.9M3,0.4l4.5,-3.3M3,0.2l3.4,3.3M5.1,0.3l4,-2.3M5.1,-0.1l3.2,3M7.3,-0.1l3.9,-2.4M7.3,0.2l4.3,2.2M9.6,-0.3l3.6,-3.2M9.6,-0.2l4.1,3.5M11.5,0.1l3.9,-2.7M11.5,0.2l3.5,3.5M13.4,-0.3l4.1,-2.9M13.4,0.3l4.5,2.1M15.3,0.2l3.1,-2.4M15.3,0l4.4,2.3M17.5,-0l3.3,-3.3M17.5,-0.1l3.9,3.2M20.1,0.3l3.6,-3.2M20.1,0.2l3.4,2.6M22.3,0.4l4,-2M22.3,-0.2l3.5,1.8M24.2,0.1l2.9,-1.7M24.2,0.1l3.6,1.6M26.1,-0.2l3,-1.6M26.1,-0.2l3,1.6M28.3,-0l3.3,-2.4M28.3,0l2.5,2.4M30.6,0.4l2.5,-1.3M30.6,-0.2l2.8,2M33,-0l2.3,-1.2M33,-0.3l2.6,2.1M35.1,0.1l2.2,-2M35.1,-0.3l2.7,1.5M37.7,-0.3l2.2,-2M37.7,-0l2.4,1.1M3.8,-2l4,-2.3M3.7,2.3l3.9,3.2M7.1,-2.6l5,-3.6M6.1,3.2l3.8,3.6M8.7,-1.7l4.4,-2.6M8,2.6l3.5,3.3M10.8,-2.2l4.3,-2.6M11.2,2.3l4.8,2.5M12.9,-3.2l3.9,-3.6M13.3,3l4.5,3.8M15,-2.4l4.3,-3M14.6,3.4l3.8,3.8M17.1,-3l4.6,-3.2M17.5,2.2l5,2.3M18.1,-1.9l3.4,-2.6M19.2,2.1l4.8,2.6M20.4,-3l3.6,-3.6M21,2.8l4.3,3.5M23.3,-2.5l3.9,-3.5M23.1,2.5l3.7,2.9M25.9,-1.4l4.4,-2.2M25.5,1.5l3.9,2M26.8,-1.4l3.2,-1.9M27.4,1.5l3.9,1.8M28.9,-1.6l3.3,-1.7M28.8,1.2l3.3,1.7M31.3,-2.2l3.7,-2.6M30.5,2.2l2.7,2.6M32.8,-0.8l2.8,-1.5M33.1,1.6l3.1,2.2M35.1,-1.1l2.5,-1.4M35.3,1.6l2.8,2.3M37.1,-1.7l2.4,-2.3M37.5,1l2.9,1.6M39.7,-2.2l2.5,-2.3M39.9,1l2.7,1.3M36,0l3.8,1.8M36,0l4.4,1.6M36,0l3,1.6M36,0l3.5,1.5M36,0l5.1,0.3M36,0l5.8,-2.5M36,0l4.1,-1M36,0l3.7,-2.1" stroke="#1b4431" stroke-width="0.85" fill="none"/></symbol><symbol id="f381" overflow="visible"><path d="M0,0L38,0M0.5,-0.1l3.7,-2.1M0.5,-0.3l3.6,2.9M3,0.4l4.5,-3.3M3,0.2l3.4,3.3M5.1,0.3l4,-2.3M5.1,-0.1l3.2,3M7.3,-0.1l3.9,-2.4M7.3,0.2l4.3,2.2M9.6,-0.3l3.6,-3.2M9.6,-0.2l4.1,3.5M11.5,0.1l3.9,-2.7M11.5,0.2l3.5,3.5M13.4,-0.3l4.1,-2.9M13.4,0.3l4.5,2.1M15.3,0.2l3.1,-2.4M15.3,0l4.4,2.3M17.5,-0l3.3,-3.3M17.5,-0.1l3.9,3.2M20.1,0.3l3.6,-3.2M20.1,0.2l3.4,2.6M22.3,0.4l4,-2M22.3,-0.2l3.5,1.8M24.2,0.1l2.9,-1.7M24.2,0.1l3.6,1.6M26.1,-0.2l3,-1.6M26.1,-0.2l3,1.6M28.3,-0l3.3,-2.4M28.3,0l2.5,2.4M30.6,0.4l2.5,-1.3M30.6,-0.2l2.8,2M33,-0l2.3,-1.2M33,-0.3l2.6,2.1M35.1,0.1l2.2,-2M35.1,-0.3l2.7,1.5M37.7,-0.3l2.2,-2M37.7,-0l2.4,1.1" stroke="#1b4431" stroke-width="0.9" fill="none"/><path d="M3.8,-2l4,-2.3M3.7,2.3l3.9,3.2M7.1,-2.6l5,-3.6M6.1,3.2l3.8,3.6M8.7,-1.7l4.4,-2.6M8,2.6l3.5,3.3M10.8,-2.2l4.3,-2.6M11.2,2.3l4.8,2.5M12.9,-3.2l3.9,-3.6M13.3,3l4.5,3.8M15,-2.4l4.3,-3M14.6,3.4l3.8,3.8M17.1,-3l4.6,-3.2M17.5,2.2l5,2.3M18.1,-1.9l3.4,-2.6M19.2,2.1l4.8,2.6M20.4,-3l3.6,-3.6M21,2.8l4.3,3.5M23.3,-2.5l3.9,-3.5M23.1,2.5l3.7,2.9M25.9,-1.4l4.4,-2.2M25.5,1.5l3.9,2M26.8,-1.4l3.2,-1.9M27.4,1.5l3.9,1.8M28.9,-1.6l3.3,-1.7M28.8,1.2l3.3,1.7M31.3,-2.2l3.7,-2.6M30.5,2.2l2.7,2.6M32.8,-0.8l2.8,-1.5M33.1,1.6l3.1,2.2M35.1,-1.1l2.5,-1.4M35.3,1.6l2.8,2.3M37.1,-1.7l2.4,-2.3M37.5,1l2.9,1.6M39.7,-2.2l2.5,-2.3M39.9,1l2.7,1.3M36,0l3.8,1.8M36,0l4.4,1.6M36,0l3,1.6M36,0l3.5,1.5M36,0l5.1,0.3M36,0l5.8,-2.5M36,0l4.1,-1M36,0l3.7,-2.1" stroke="#316a4d" stroke-width="0.8" fill="none"/><path d="M17.5,-1.5l3.9,-3M18.8,1.9l5.3,2.8M20.6,-3.2l3.4,-3.4M21.1,2.9l4.2,3.4M22.8,2.3l4,3.1M25.1,-1l5.3,-2.6M26.2,-1.1l3.8,-2.2M26.4,1.1l4.9,2.2M28.9,-1.6l3.3,-1.7M29,1.4l3,1.6M31.7,-2.5l3.2,-2.3M32.6,-0.7l3,-1.6M35.3,-1.3l2.3,-1.2M35,1.3l3.2,2.6M36.7,0.6l3.7,2.1M39.8,-2.3l2.3,-2.1M37.3,0.6l2.5,1.1M37.5,0.6l2.9,1M37,0.6l1.9,1M37.2,0.5l2.3,1M37.8,0.1l3.3,0.2M38,-0.9l3.8,-1.6M37.4,-0.3l2.7,-0.6M37.3,-0.7l2.4,-1.3" stroke="#dce5e0" stroke-width="0.9" fill="none"/></symbol><symbol id="p0" overflow="visible"><path d="M-0.4,0.6l4.5,-0.1M-0.1,1.4l3.5,0.3M-1.5,-0.4l3.5,2.5M0.2,-0.1l2.1,2.2M0.9,-0.9l3.8,3.7M-0.4,0.1l1,3.1M-0.3,0.5l0.7,3.3M0.7,-0.5l-0.1,3M0.7,-0.5l-2.1,3.4M-1.1,-1.2l-1.8,2M-1,-0.3l-3.5,2.7M-1.2,-0.8l-3.9,1.4M-0.3,-1.3l-2.6,1M0,0.4l-3.6,-0.6M-0.3,-0.5l-4.5,-1.6M-0.3,0.6l-2.2,-1.1M0.5,0.3l-2.8,-3.7M-0.5,0.5l-2.4,-2.3M0,0.9l-1.7,-3M-1,0.8l0,-4.2M-0.4,0l1.1,-3.8M1.5,0l1,-4.3M-0.9,1.3l3.1,-3.7M-1.3,-0.8l2.3,-1.9M-0.5,1.3l4,-1.9M-1.1,1.4l3.6,-1.1" stroke="#316a4d" stroke-width="0.9" fill="none"/><path d="M2.9,0.5l4.1,-0.1M2.5,1.6l3.2,0.3M1.2,1.5l3.2,2.3M1.8,1.5l2,2M3.7,1.9l3.5,3.4M0.4,2.4l0.9,2.8M0.2,3l0.6,3M0.6,1.7l-0.1,2.7M-0.9,2.1l-1.9,3.2M-2.4,0.3l-1.6,1.8M-3.6,1.7l-3.2,2.5M-4.1,0.2l-3.5,1.3M-2.2,-0.5l-2.3,0.9M-2.6,-0l-3.3,-0.6M-3.7,-1.7l-4.1,-1.5M-2,-0.2l-2,-1M-1.6,-2.5l-2.6,-3.4M-2.3,-1.3l-2.2,-2.1M-1.3,-1.4l-1.6,-2.8M-1,-2.3l0,-3.8M0.4,-2.9l1,-3.5M2.2,-3.2l0.9,-4M1.4,-1.4l2.8,-3.4M0.5,-2.2l2.1,-1.7M2.5,-0.2l3.6,-1.8M1.5,0.6l3.3,-1" stroke="#dce5e0" stroke-width="1" fill="none"/></symbol><symbol id="p1" overflow="visible"><path d="M0.1,0.2l5,-0.7M1.2,1.5l3.1,0.8M-1.1,1l3.4,2.4M-0.8,0.2l4,3M0.1,-1.3l1.3,2.6M1.5,1.3l1.5,2.5M0.5,0.7l0.2,3.3M0.9,-1.5l-0.3,4.1M-1.1,-0.3l-0.9,3.6M0.1,-0.7l-1.7,2.3M0.4,-1.4l-2.6,2.2M1.4,0.3l-2.6,1.1M0.4,0.6l-3.5,0.9M-0,1.5l-4.5,-0.5M-0.3,-0.2l-4.5,-1.8M0.1,0.1l-4.4,-2.4M-0.5,-1.3l-3.8,-3.2M0.7,0.3l-2.5,-4.3M0.3,-1.3l-0.8,-3.2M0,-0.3l-1,-3.6M0.1,-0.8l-0.3,-4.4M-0.8,-1.3l1,-3.4M0.5,1.1l3.6,-3.7M-0.8,0.7l3.4,-3.2M-1.2,0.9l4.5,-2.2M1.4,-1.5l3.6,-1.5" stroke="#316a4d" stroke-width="0.9" fill="none"/><path d="M3.8,-0.4l4.5,-0.7M3.5,2.1l2.8,0.8M1.4,2.8l3.1,2.2M2.2,2.5l3.7,2.7M1.1,0.7l1.2,2.4M2.6,3.2l1.4,2.3M0.7,3.2l0.2,3M0.7,1.6l-0.3,3.8M-1.7,2.4l-0.8,3.3M-1.2,1l-1.6,2.1M-1.5,0.2l-2.4,2M-0.6,1.2l-2.4,1M-2.2,1.2l-3.2,0.8M-3.4,1.1l-4.2,-0.4M-3.7,-1.5l-4.1,-1.6M-3.2,-1.8l-4,-2.2M-3.4,-3.7l-3.5,-2.9M-1.1,-3l-2.2,-4M-0.4,-3.7l-0.8,-2.9M-0.7,-3l-0.9,-3.3M-0.1,-4.1l-0.2,-4M-0,-3.8l0.9,-3.1M3.2,-1.7l3.3,-3.4M1.7,-1.7l3.1,-3M2.2,-0.8l4.1,-2M4.1,-2.6l3.3,-1.4" stroke="#dce5e0" stroke-width="1" fill="none"/></symbol><symbol id="p2" overflow="visible"><path d="M-0.5,-1.3l3.2,-0.3M-0.3,-0.4l4.4,1.8M-1.4,1.2l2.2,1.3M1.3,1.4l3.1,2.3M-0.6,1.3l1.7,2.4M1,-0.4l0.6,2.9M1.1,1.5l0.4,2.9M-0.9,1.1l-0,4.2M0.7,-0.6l-0.5,2.7M0.6,-1.1l-3.4,3.5M-0.2,-1.3l-4.1,3.1M0.6,-0.9l-2.7,1.8M0.5,0.9l-2.9,1.1M1.2,0.3l-4.3,0.2M1.3,0.5l-3.2,-0.4M-1.2,1.4l-3.9,-1.6M0.1,-1.4l-3,-2.5M-0.7,0.9l-1.7,-2.7M0.8,-0.8l-1.6,-2.8M-0.9,1.2l-0.8,-3.9M-0.1,0.8l0.8,-2.4M-0,-1l1.6,-4.8M-0.4,0.5l2.5,-3.4M0,1l3.2,-2.2M1.4,-1l3.6,-1.6M0.3,-0.8l2.9,-0.4" stroke="#316a4d" stroke-width="0.9" fill="none"/><path d="M1.9,-1.6l3,-0.3M3,1l4,1.7M0.2,2.1l2,1.1M3.6,3.2l2.8,2.1M0.7,3.1l1.6,2.2M1.5,1.7l0.5,2.7M1.4,3.6l0.3,2.6M-0.9,4.3l-0,3.9M0.3,1.4l-0.5,2.4M-1.9,1.6l-3.1,3.2M-3.2,1l-3.7,2.8M-1.4,0.5l-2.5,1.7M-1.7,1.7l-2.6,1M-2.1,0.4l-3.9,0.2M-1.1,0.2l-3,-0.4M-4.2,0.2l-3.6,-1.5M-2.2,-3.3l-2.7,-2.3M-2,-1.1l-1.6,-2.5M-0.4,-2.8l-1.5,-2.6M-1.6,-1.7l-0.8,-3.6M0.5,-1l0.7,-2.2M1.2,-4.6l1.4,-4.4M1.5,-2.1l2.3,-3.2M2.4,-0.6l2.9,-2M4,-2.1l3.3,-1.4M2.5,-1.1l2.6,-0.3" stroke="#dce5e0" stroke-width="1" fill="none"/></symbol><symbol id="screw" overflow="visible"><rect x="-11" y="44" width="22" height="54" rx="1.5" fill="#c6c6c6"/><path d="M-12.2,46.6a1.4,1.6 0 0 0 0,2.6M12.2,48.0a1.4,1.6 0 0 1 0,2.6M-12.2,50.1a1.4,1.6 0 0 0 0,2.6M12.2,51.5a1.4,1.6 0 0 1 0,2.6M-12.2,53.7a1.4,1.6 0 0 0 0,2.6M12.2,55.1a1.4,1.6 0 0 1 0,2.6M-12.2,57.2a1.4,1.6 0 0 0 0,2.6M12.2,58.6a1.4,1.6 0 0 1 0,2.6M-12.2,60.8a1.4,1.6 0 0 0 0,2.6M12.2,62.2a1.4,1.6 0 0 1 0,2.6M-12.2,64.3a1.4,1.6 0 0 0 0,2.6M12.2,65.7a1.4,1.6 0 0 1 0,2.6M-12.2,67.9a1.4,1.6 0 0 0 0,2.6M12.2,69.3a1.4,1.6 0 0 1 0,2.6M-12.2,71.4a1.4,1.6 0 0 0 0,2.6M12.2,72.8a1.4,1.6 0 0 1 0,2.6M-12.2,75.0a1.4,1.6 0 0 0 0,2.6M12.2,76.4a1.4,1.6 0 0 1 0,2.6M-12.2,78.5a1.4,1.6 0 0 0 0,2.6M12.2,79.9a1.4,1.6 0 0 1 0,2.6M-12.2,82.1a1.4,1.6 0 0 0 0,2.6M12.2,83.5a1.4,1.6 0 0 1 0,2.6M-12.2,85.6a1.4,1.6 0 0 0 0,2.6M12.2,87.0a1.4,1.6 0 0 1 0,2.6M-12.2,89.2a1.4,1.6 0 0 0 0,2.6M12.2,90.6a1.4,1.6 0 0 1 0,2.6M-12.2,92.7a1.4,1.6 0 0 0 0,2.6M12.2,94.1a1.4,1.6 0 0 1 0,2.6" fill="#b0b0b0" stroke="#8a8a8a" stroke-width="0.6"/><path d="M-11.5,47.5L11.5,48.9M-11.5,51.0L11.5,52.4M-11.5,54.6L11.5,56.0M-11.5,58.1L11.5,59.5M-11.5,61.7L11.5,63.1M-11.5,65.2L11.5,66.6M-11.5,68.8L11.5,70.2M-11.5,72.3L11.5,73.7M-11.5,75.9L11.5,77.3M-11.5,79.4L11.5,80.8M-11.5,83.0L11.5,84.4M-11.5,86.5L11.5,87.9M-11.5,90.1L11.5,91.5M-11.5,93.6L11.5,95.0" stroke="#7b7b7b" stroke-width="1.2" fill="none"/><path d="M-9.5,49.3L9.5,50.5M-9.5,52.8L9.5,54.0M-9.5,56.4L9.5,57.6M-9.5,59.9L9.5,61.1M-9.5,63.5L9.5,64.7M-9.5,67.0L9.5,68.2M-9.5,70.6L9.5,71.8M-9.5,74.1L9.5,75.3M-9.5,77.7L9.5,78.9M-9.5,81.2L9.5,82.4M-9.5,84.8L9.5,86.0M-9.5,88.3L9.5,89.5M-9.5,91.9L9.5,93.1M-9.5,95.4L9.5,96.6" stroke="#e4e4e4" stroke-width="1" fill="none"/><path d="M-11,46L-11,98M11,46L11,98" stroke="#858585" stroke-width="1.2"/><path d="M-24.3,19.1A24.3,19.1 0 0 1 24.3,19.1C24.3,29 18,35 13,40Q11.5,42 11.5,45L-11.5,45Q-11.5,42 -13,40C-18,35 -24.3,29 -24.3,19.1Z" fill="#909090" stroke="#737373" stroke-width="1.1"/><path d="M-20,10.5L20,10.5M-23.5,19.5L23.5,19.5M-22,29L22,29M-15,36L15,36" stroke="#b2b2b2" stroke-width="1.4" fill="none"/><path d="M-21,8L21,8M-23.5,17L23.5,17M-22.5,26.5L22.5,26.5M-16,33.5L16,33.5" stroke="#7e7e7e" stroke-width="1" fill="none"/><rect x="-10.5" y="40.5" width="21" height="5" fill="#adadad"/></symbol></defs>
<polygon points="407.4,0 767.8,0 767.8,70.6 457.2,70.6" fill="#3b6e3b"/>
<g filter="url(#soft)"><path d="M218,334L218,351L226,351L226,334Z M465.5,348L465.5,372L470.5,372L471,348Z M655,350L655,370L654,372L655.5,382L659.5,382L661,372L660,370L660,350Z" fill="#1c3a2a"/><use href="#k380" transform="translate(222 340) rotate(-165) scale(1.1)"/><use href="#n381" transform="translate(222 340) rotate(-145) scale(1.15)"/><use href="#k381" transform="translate(222 340) rotate(-125) scale(1.0)"/><use href="#n380" transform="translate(222 338) rotate(-100) scale(0.9)"/><use href="#k300" transform="translate(222 338) rotate(-75) scale(0.9)"/><use href="#n301" transform="translate(222 340) rotate(-55) scale(1.1)"/><use href="#k380" transform="translate(222 340) rotate(-35) scale(1.15)"/><use href="#n381" transform="translate(222 340) rotate(-15) scale(1.1)"/><use href="#n300" transform="translate(200 330) rotate(-170) scale(1.0)"/><use href="#n301" transform="translate(245 330) rotate(-10) scale(1.0)"/><use href="#k300" transform="translate(468 352) rotate(-150) scale(1.0)"/><use href="#n301" transform="translate(468 352) rotate(-125) scale(0.9)"/><use href="#k301" transform="translate(468 352) rotate(-60) scale(0.9)"/><use href="#n300" transform="translate(468 352) rotate(-30) scale(1.0)"/><use href="#k300" transform="translate(657 356) rotate(-165) scale(1.0)"/><use href="#n301" transform="translate(657 356) rotate(-140) scale(0.9)"/><use href="#k301" transform="translate(657 356) rotate(-40) scale(0.9)"/><use href="#n300" transform="translate(657 356) rotate(-15) scale(1.0)"/><polygon points="120,240 120,240 121,241 122,242 123,243 124,244 124,246 125,247 125,248 125,250 125,251 125,253 125,254 122,265 122,266 121,267 121,269 120,270 111,281 110,287 113,288 114,288 118,285 119,284 121,283 122,283 123,282 124,282 126,282 127,282 128,282 130,282 131,282 132,283 133,283 135,284 136,285 144,291 144,290 146,290 147,289 148,288 149,288 151,287 152,287 153,287 155,287 156,287 158,288 159,288 160,289 161,289 169,295 169,295 182,303 191,303 192,303 193,303 194,303 196,304 197,304 207,309 209,310 210,311 211,312 221,322 222,323 222,322 222,322 233,314 234,313 242,308 243,307 244,307 262,299 264,298 265,298 266,298 268,298 269,298 271,298 284,301 285,301 286,301 289,302 290,299 291,298 292,297 293,296 294,295 305,287 306,286 307,286 308,285 310,285 311,285 312,285 314,285 315,285 317,285 318,285 319,286 320,287 322,288 331,295 331,294 331,293 331,291 332,290 332,289 333,288 334,287 335,286 340,280 341,279 340,272 334,267 333,266 332,266 331,265 330,264 330,262 325,253 319,245 313,241 312,241 311,240 300,229 299,228 298,227 298,226 297,224 295,218 290,217 285,219 277,226 276,227 275,227 274,228 272,228 271,229 270,229 268,229 267,229 266,229 264,229 263,228 262,228 259,226 252,231 252,231 244,236 243,237 242,237 240,238 239,238 237,238 236,238 235,238 233,238 232,238 231,237 229,237 228,236 227,235 226,234 225,233 224,232 224,231 221,225 215,230 214,231 213,232 211,232 210,233 209,233 207,233 206,233 205,233 203,233 202,232 201,232 199,231 198,230 197,230 193,226 190,227 189,227 188,228 187,228 176,229 175,229 174,229 172,229 171,229 170,228 169,228 168,227 167,226 161,222 158,225 157,226 156,227 155,227 154,228 153,228 151,229 150,229 149,229 147,229 146,229 145,229 143,228 142,228 137,225 133,226 125,236 124,237 123,238 122,238 121,239" fill="#173726"/><use href="#k380" transform="translate(250.8 298.6) rotate(-56) scale(0.95)"/><use href="#k221" transform="translate(314.6 275.2) rotate(1) scale(0.98)"/><use href="#k300" transform="translate(264.4 251.0) rotate(-59) scale(0.94)"/><use href="#k220" transform="translate(162.2 286.5) rotate(-137) scale(0.92)"/><use href="#k380" transform="translate(180.6 303.6) rotate(-130) scale(1.10)"/><use href="#k381" transform="translate(247.6 314.3) rotate(-57) scale(1.01)"/><use href="#k380" transform="translate(154.5 278.4) rotate(-136) scale(0.94)"/><use href="#k380" transform="translate(175.6 276.3) rotate(-114) scale(1.03)"/><use href="#k300" transform="translate(262.4 254.9) rotate(-54) scale(0.91)"/><use href="#k380" transform="translate(249.0 273.9) rotate(-18) scale(0.88)"/><use href="#k300" transform="translate(296.2 275.7) rotate(-61) scale(0.88)"/><use href="#k301" transform="translate(215.8 246.3) rotate(-3) scale(0.90)"/><use href="#k221" transform="translate(186.7 288.4) rotate(-178) scale(0.85)"/><use href="#k301" transform="translate(310.8 266.3) rotate(27) scale(1.06)"/><use href="#k381" transform="translate(185.7 266.6) rotate(-123) scale(0.87)"/><use href="#k301" transform="translate(203.3 277.1) rotate(-204) scale(0.97)"/><use href="#k381" transform="translate(254.1 251.2) rotate(22) scale(1.10)"/><use href="#k381" transform="translate(223.8 323.1) rotate(-130) scale(1.04)"/><use href="#k381" transform="translate(312.6 258.6) rotate(-117) scale(0.98)"/><use href="#k301" transform="translate(224.9 297.0) rotate(-10) scale(0.89)"/><use href="#k220" transform="translate(143.3 250.8) rotate(-142) scale(0.93)"/><use href="#k220" transform="translate(245.8 268.9) rotate(-106) scale(1.00)"/><use href="#k381" transform="translate(222.9 286.7) rotate(-136) scale(0.93)"/><use href="#k380" transform="translate(211.6 272.9) rotate(-196) scale(1.10)"/><use href="#k380" transform="translate(213.0 270.0) rotate(73) scale(1.09)"/><use href="#k221" transform="translate(160.8 272.8) rotate(-226) scale(1.05)"/><use href="#k380" transform="translate(218.7 313.2) rotate(-35) scale(1.07)"/><use href="#k300" transform="translate(163.0 256.6) rotate(-224) scale(0.95)"/><use href="#k220" transform="translate(155.7 275.7) rotate(-177) scale(1.05)"/><use href="#k301" transform="translate(161.2 245.9) rotate(-172) scale(0.98)"/><use href="#k300" transform="translate(205.7 286.9) rotate(-155) scale(1.07)"/><use href="#k220" transform="translate(194.6 298.7) rotate(-155) scale(0.90)"/><use href="#k381" transform="translate(173.7 264.6) rotate(-103) scale(0.89)"/><use href="#k380" transform="translate(251.9 288.7) rotate(-71) scale(0.90)"/><use href="#k300" transform="translate(286.5 255.5) rotate(17) scale(1.03)"/><use href="#k380" transform="translate(275.1 259.1) rotate(-49) scale(1.02)"/><use href="#k221" transform="translate(231.4 288.0) rotate(-145) scale(0.85)"/><use href="#k300" transform="translate(214.6 303.8) rotate(-16) scale(0.93)"/><use href="#k380" transform="translate(162.8 277.8) rotate(-150) scale(0.87)"/><use href="#k380" transform="translate(174.4 268.6) rotate(-185) scale(1.03)"/><use href="#k381" transform="translate(283.2 258.3) rotate(2) scale(0.87)"/><use href="#k221" transform="translate(182.7 264.9) rotate(-247) scale(1.09)"/><use href="#k300" transform="translate(257.5 288.0) rotate(18) scale(0.96)"/><use href="#k301" transform="translate(257.6 280.4) rotate(-50) scale(1.07)"/><use href="#k300" transform="translate(268.4 275.9) rotate(-79) scale(0.99)"/><use href="#k381" transform="translate(249.5 294.6) rotate(-40) scale(0.88)"/><use href="#k221" transform="translate(241.9 285.4) rotate(-26) scale(1.06)"/><use href="#k300" transform="translate(175.4 256.7) rotate(-207) scale(0.95)"/><use href="#k300" transform="translate(260.5 281.8) rotate(-73) scale(0.91)"/><use href="#k220" transform="translate(218.5 288.9) rotate(94) scale(1.00)"/><use href="#k380" transform="translate(251.7 288.4) rotate(-26) scale(1.02)"/><use href="#k381" transform="translate(269.8 268.1) rotate(-55) scale(1.05)"/><use href="#k221" transform="translate(240.8 270.6) rotate(-9) scale(0.91)"/><use href="#k300" transform="translate(193.9 289.0) rotate(-110) scale(0.97)"/><use href="#k301" transform="translate(211.6 284.5) rotate(153) scale(1.03)"/><use href="#k380" transform="translate(150.6 279.6) rotate(-145) scale(0.87)"/><use href="#k220" transform="translate(269.7 293.9) rotate(3) scale(1.06)"/><use href="#k301" transform="translate(255.0 268.7) rotate(6) scale(1.00)"/><use href="#k221" transform="translate(264.7 258.2) rotate(-46) scale(0.98)"/><use href="#k221" transform="translate(226.7 310.7) rotate(-64) scale(1.05)"/><use href="#k381" transform="translate(179.5 280.4) rotate(-151) scale(0.99)"/><use href="#k301" transform="translate(213.1 274.4) rotate(-205) scale(1.09)"/><use href="#k301" transform="translate(239.8 307.3) rotate(-151) scale(1.09)"/><use href="#k381" transform="translate(248.2 253.9) rotate(40) scale(1.04)"/><use href="#k300" transform="translate(186.7 228.9) rotate(-188) scale(1.02)"/><use href="#k221" transform="translate(221.3 292.4) rotate(86) scale(0.99)"/><use href="#k381" transform="translate(228.3 260.8) rotate(-180) scale(1.07)"/><use href="#k301" transform="translate(272.1 262.8) rotate(-49) scale(0.95)"/><use href="#k380" transform="translate(250.1 254.0) rotate(-142) scale(0.98)"/><use href="#k380" transform="translate(226.5 296.0) rotate(-143) scale(0.88)"/><use href="#k381" transform="translate(286.6 290.8) rotate(-13) scale(0.98)"/><use href="#k300" transform="translate(227.2 274.9) rotate(-114) scale(1.04)"/><use href="#k220" transform="translate(165.3 248.3) rotate(-130) scale(1.03)"/><use href="#k301" transform="translate(141.5 264.0) rotate(-120) scale(1.01)"/><use href="#k301" transform="translate(143.5 285.8) rotate(-117) scale(1.02)"/><use href="#k300" transform="translate(242.8 272.9) rotate(31) scale(1.05)"/><use href="#k301" transform="translate(224.2 276.0) rotate(-34) scale(0.94)"/><use href="#k220" transform="translate(197.1 252.3) rotate(-166) scale(0.89)"/><use href="#k380" transform="translate(243.4 244.2) rotate(-213) scale(1.03)"/><use href="#k300" transform="translate(201.3 270.0) rotate(-130) scale(0.99)"/><use href="#k301" transform="translate(176.9 277.4) rotate(-86) scale(1.04)"/><use href="#k301" transform="translate(254.0 279.3) rotate(9) scale(1.05)"/><use href="#k381" transform="translate(238.9 273.3) rotate(-31) scale(0.88)"/><use href="#k300" transform="translate(272.7 255.7) rotate(-48) scale(0.90)"/><use href="#k380" transform="translate(231.4 308.0) rotate(-144) scale(0.91)"/><use href="#k300" transform="translate(243.8 275.1) rotate(44) scale(0.88)"/><use href="#k300" transform="translate(170.3 295.5) rotate(-94) scale(1.04)"/><use href="#k301" transform="translate(286.1 256.8) rotate(16) scale(0.98)"/><use href="#k220" transform="translate(160.7 260.1) rotate(-164) scale(1.08)"/><use href="#k221" transform="translate(162.2 281.7) rotate(-147) scale(0.98)"/><use href="#k300" transform="translate(230.5 256.0) rotate(-47) scale(1.07)"/><use href="#k221" transform="translate(159.2 252.5) rotate(-105) scale(0.86)"/><use href="#k380" transform="translate(226.9 288.9) rotate(-2) scale(1.06)"/><use href="#k300" transform="translate(200.7 284.2) rotate(155) scale(0.94)"/><use href="#k300" transform="translate(284.9 263.8) rotate(-10) scale(0.97)"/><use href="#k380" transform="translate(230.8 282.6) rotate(-172) scale(0.96)"/><use href="#k300" transform="translate(232.0 299.2) rotate(161) scale(0.88)"/><use href="#k300" transform="translate(232.4 303.5) rotate(-80) scale(1.01)"/><use href="#k221" transform="translate(265.4 268.8) rotate(-76) scale(1.00)"/><use href="#k301" transform="translate(211.5 290.3) rotate(-156) scale(1.02)"/><use href="#k301" transform="translate(269.6 308.8) rotate(-69) scale(1.07)"/><use href="#k221" transform="translate(163.1 276.1) rotate(-141) scale(0.89)"/><use href="#k301" transform="translate(154.6 242.4) rotate(-177) scale(1.07)"/><use href="#k300" transform="translate(222.3 316.5) rotate(-99) scale(0.99)"/><use href="#k380" transform="translate(193.7 270.9) rotate(-109) scale(1.07)"/><use href="#k381" transform="translate(214.9 290.6) rotate(-98) scale(1.09)"/><use href="#k300" transform="translate(187.1 278.0) rotate(-168) scale(0.86)"/><use href="#k220" transform="translate(217.1 282.2) rotate(74) scale(0.92)"/><use href="#k300" transform="translate(242.9 280.9) rotate(-109) scale(0.96)"/><use href="#k380" transform="translate(241.2 269.5) rotate(-46) scale(0.86)"/><use href="#k381" transform="translate(277.1 277.0) rotate(-14) scale(1.09)"/><use href="#k301" transform="translate(210.6 292.8) rotate(13) scale(0.88)"/><use href="#k220" transform="translate(271.1 290.9) rotate(7) scale(1.03)"/><use href="#k380" transform="translate(179.4 285.6) rotate(-172) scale(1.06)"/><use href="#k380" transform="translate(209.3 279.7) rotate(-149) scale(1.03)"/><use href="#k301" transform="translate(269.7 250.8) rotate(-18) scale(0.91)"/><use href="#k220" transform="translate(209.3 292.1) rotate(-99) scale(0.98)"/><use href="#k220" transform="translate(203.3 290.4) rotate(-162) scale(0.86)"/><use href="#k220" transform="translate(184.5 265.4) rotate(-147) scale(1.10)"/><use href="#k380" transform="translate(235.3 280.2) rotate(-100) scale(0.88)"/><use href="#k380" transform="translate(227.6 268.6) rotate(-130) scale(1.00)"/><use href="#k381" transform="translate(159.6 274.0) rotate(-115) scale(1.09)"/><use href="#k380" transform="translate(248.3 313.4) rotate(-39) scale(1.01)"/><use href="#k381" transform="translate(248.9 314.9) rotate(-28) scale(0.96)"/><use href="#k301" transform="translate(278.3 274.9) rotate(-54) scale(0.90)"/><use href="#k221" transform="translate(251.9 306.5) rotate(-63) scale(1.09)"/><use href="#k301" transform="translate(274.1 272.9) rotate(19) scale(0.90)"/><use href="#k380" transform="translate(160.2 238.9) rotate(-240) scale(1.09)"/><use href="#k381" transform="translate(206.4 242.8) rotate(-180) scale(0.92)"/><use href="#k381" transform="translate(230.6 290.8) rotate(-124) scale(1.06)"/><use href="#k220" transform="translate(240.3 292.4) rotate(-9) scale(1.07)"/><use href="#k220" transform="translate(165.4 256.6) rotate(-114) scale(0.93)"/><use href="#k301" transform="translate(248.8 268.1) rotate(-99) scale(1.02)"/><use href="#k381" transform="translate(212.6 284.0) rotate(-171) scale(0.96)"/><use href="#k220" transform="translate(274.4 290.4) rotate(-36) scale(0.92)"/><use href="#k301" transform="translate(232.2 301.2) rotate(-39) scale(0.96)"/><use href="#k221" transform="translate(201.1 289.3) rotate(-106) scale(1.06)"/><use href="#k301" transform="translate(272.4 290.3) rotate(-85) scale(0.97)"/><use href="#k380" transform="translate(290.8 268.5) rotate(-33) scale(0.85)"/><use href="#k221" transform="translate(204.0 241.6) rotate(-1) scale(1.09)"/><use href="#k381" transform="translate(156.4 263.6) rotate(-195) scale(0.97)"/><use href="#k221" transform="translate(249.6 271.4) rotate(4) scale(1.03)"/><use href="#k381" transform="translate(175.3 270.1) rotate(-136) scale(1.08)"/><use href="#k300" transform="translate(158.8 274.0) rotate(-156) scale(0.87)"/><use href="#k301" transform="translate(225.5 264.5) rotate(-180) scale(1.00)"/><use href="#k301" transform="translate(180.4 271.5) rotate(-159) scale(1.00)"/><use href="#k221" transform="translate(266.4 267.6) rotate(-3) scale(1.01)"/><use href="#k300" transform="translate(287.6 278.5) rotate(-1) scale(1.04)"/><use href="#k380" transform="translate(262.0 290.3) rotate(-116) scale(1.06)"/><use href="#k221" transform="translate(258.9 253.0) rotate(-41) scale(1.00)"/><use href="#n381" transform="translate(194.1 290.1) rotate(158) scale(0.92)"/><use href="#f300" transform="translate(179.8 246.3) rotate(-113) scale(0.85)"/><use href="#n381" transform="translate(287.0 295.8) rotate(-21) scale(0.91)"/><use href="#n221" transform="translate(197.0 236.6) rotate(-86) scale(0.90)"/><use href="#n300" transform="translate(195.1 252.3) rotate(-144) scale(0.90)"/><use href="#f301" transform="translate(144.7 261.2) rotate(-115) scale(0.88)"/><use href="#f381" transform="translate(211.3 266.3) rotate(-138) scale(0.98)"/><use href="#f301" transform="translate(234.8 281.4) rotate(-2) scale(1.02)"/><use href="#n301" transform="translate(233.3 270.5) rotate(-113) scale(0.88)"/><use href="#n300" transform="translate(149.2 273.6) rotate(-163) scale(0.90)"/><use href="#f300" transform="translate(216.3 315.6) rotate(-63) scale(0.95)"/><use href="#f300" transform="translate(207.0 248.1) rotate(3) scale(0.99)"/><use href="#f380" transform="translate(282.0 307.1) rotate(-31) scale(0.97)"/><use href="#f381" transform="translate(204.6 270.5) rotate(133) scale(1.02)"/><use href="#f381" transform="translate(166.0 307.4) rotate(-121) scale(1.01)"/><use href="#n301" transform="translate(270.1 299.0) rotate(5) scale(1.09)"/><use href="#f301" transform="translate(218.4 247.6) rotate(-118) scale(0.93)"/><use href="#n381" transform="translate(201.6 251.2) rotate(-119) scale(1.05)"/><use href="#n301" transform="translate(275.6 276.0) rotate(54) scale(0.91)"/><use href="#f380" transform="translate(243.9 272.3) rotate(2) scale(0.94)"/><use href="#n380" transform="translate(270.5 258.5) rotate(-29) scale(1.00)"/><use href="#f220" transform="translate(318.1 260.0) rotate(-25) scale(1.01)"/><use href="#f301" transform="translate(225.6 289.6) rotate(-187) scale(0.89)"/><use href="#f301" transform="translate(224.3 278.3) rotate(-26) scale(1.05)"/><use href="#n221" transform="translate(323.8 263.9) rotate(5) scale(1.10)"/><use href="#n381" transform="translate(268.5 297.1) rotate(-66) scale(1.04)"/><use href="#f301" transform="translate(193.9 258.2) rotate(-139) scale(0.92)"/><use href="#n300" transform="translate(210.2 303.1) rotate(-51) scale(1.03)"/><use href="#n221" transform="translate(289.7 256.7) rotate(-54) scale(1.02)"/><use href="#n381" transform="translate(285.4 315.1) rotate(-56) scale(1.02)"/><use href="#n300" transform="translate(206.5 259.4) rotate(-82) scale(1.05)"/><use href="#f220" transform="translate(289.7 252.7) rotate(-69) scale(0.95)"/><use href="#n300" transform="translate(275.3 244.5) rotate(1) scale(0.98)"/><use href="#n301" transform="translate(216.5 270.8) rotate(-39) scale(0.85)"/><use href="#n381" transform="translate(225.2 288.7) rotate(46) scale(0.92)"/><use href="#n380" transform="translate(275.9 247.1) rotate(-78) scale(0.99)"/><use href="#n381" transform="translate(182.7 241.4) rotate(-133) scale(1.04)"/><use href="#n220" transform="translate(217.4 298.0) rotate(-93) scale(0.92)"/><use href="#f381" transform="translate(230.8 298.2) rotate(-172) scale(0.89)"/><use href="#n381" transform="translate(251.0 283.1) rotate(-38) scale(1.02)"/><use href="#f381" transform="translate(143.1 253.8) rotate(-122) scale(1.07)"/><use href="#f301" transform="translate(275.1 281.9) rotate(-41) scale(0.92)"/><use href="#n221" transform="translate(232.7 249.6) rotate(-118) scale(1.03)"/><use href="#n220" transform="translate(196.1 267.4) rotate(-179) scale(0.91)"/><use href="#n220" transform="translate(237.2 282.5) rotate(140) scale(0.97)"/><use href="#f301" transform="translate(152.8 281.8) rotate(-132) scale(0.87)"/><use href="#f301" transform="translate(259.0 303.9) rotate(-1) scale(1.03)"/><use href="#n220" transform="translate(243.5 292.6) rotate(48) scale(0.97)"/><use href="#f300" transform="translate(213.2 256.0) rotate(-126) scale(1.03)"/><use href="#n220" transform="translate(231.2 244.3) rotate(-64) scale(0.94)"/><use href="#n301" transform="translate(264.1 300.9) rotate(36) scale(0.93)"/><use href="#n301" transform="translate(155.1 286.1) rotate(-115) scale(0.92)"/><use href="#n381" transform="translate(180.3 251.9) rotate(-135) scale(0.86)"/><use href="#f221" transform="translate(208.4 278.2) rotate(-119) scale(0.89)"/><use href="#n221" transform="translate(219.0 294.9) rotate(108) scale(0.89)"/><use href="#n221" transform="translate(228.5 300.4) rotate(55) scale(1.03)"/><use href="#n301" transform="translate(212.5 286.3) rotate(64) scale(0.95)"/><use href="#n220" transform="translate(237.7 244.4) rotate(-38) scale(1.05)"/><use href="#n301" transform="translate(195.2 281.4) rotate(-191) scale(1.06)"/><use href="#f300" transform="translate(220.0 292.2) rotate(52) scale(1.00)"/><use href="#n220" transform="translate(150.9 228.6) rotate(-163) scale(0.85)"/><use href="#n301" transform="translate(175.3 275.6) rotate(127) scale(1.11)"/><use href="#n380" transform="translate(195.2 293.7) rotate(-12) scale(1.05)"/><use href="#f380" transform="translate(210.6 244.6) rotate(-60) scale(0.92)"/><use href="#n380" transform="translate(254.4 264.5) rotate(-61) scale(1.02)"/><use href="#n220" transform="translate(140.6 236.6) rotate(-188) scale(0.86)"/><use href="#f301" transform="translate(278.4 235.6) rotate(-15) scale(1.10)"/><use href="#n380" transform="translate(292.9 286.6) rotate(30) scale(0.99)"/><use href="#n300" transform="translate(244.3 294.5) rotate(5) scale(0.95)"/><use href="#n220" transform="translate(135.3 233.1) rotate(-114) scale(0.94)"/><use href="#n300" transform="translate(131.3 288.3) rotate(-169) scale(1.02)"/><use href="#f300" transform="translate(248.3 269.3) rotate(-45) scale(0.90)"/><use href="#f380" transform="translate(265.2 253.1) rotate(-76) scale(1.01)"/><use href="#f301" transform="translate(247.8 307.4) rotate(-89) scale(1.06)"/><use href="#n301" transform="translate(265.9 287.6) rotate(-5) scale(0.87)"/><use href="#n380" transform="translate(199.0 297.5) rotate(-77) scale(1.03)"/><use href="#f220" transform="translate(235.7 289.2) rotate(137) scale(0.97)"/><use href="#n220" transform="translate(294.2 268.4) rotate(-48) scale(0.92)"/><use href="#f380" transform="translate(177.5 284.5) rotate(-117) scale(1.00)"/><use href="#n301" transform="translate(233.7 286.7) rotate(-61) scale(0.88)"/><use href="#n380" transform="translate(148.4 241.7) rotate(-187) scale(0.98)"/><use href="#n220" transform="translate(213.5 248.6) rotate(-109) scale(0.88)"/><use href="#f301" transform="translate(142.8 282.3) rotate(-156) scale(1.10)"/><use href="#n220" transform="translate(120.6 293.8) rotate(-172) scale(1.06)"/><use href="#f380" transform="translate(248.1 228.9) rotate(-192) scale(0.92)"/><use href="#f301" transform="translate(145.6 305.5) rotate(179) scale(0.99)"/><use href="#n301" transform="translate(294.4 284.9) rotate(41) scale(0.96)"/><use href="#f301" transform="translate(217.9 255.3) rotate(-73) scale(0.91)"/><use href="#n221" transform="translate(186.8 255.2) rotate(-103) scale(1.10)"/><use href="#f221" transform="translate(315.3 282.5) rotate(-18) scale(0.92)"/><use href="#f381" transform="translate(185.0 249.2) rotate(-214) scale(0.97)"/><use href="#n220" transform="translate(219.1 289.8) rotate(140) scale(1.00)"/><use href="#n301" transform="translate(242.1 246.7) rotate(-17) scale(0.95)"/><use href="#n380" transform="translate(236.7 295.5) rotate(-148) scale(0.88)"/><use href="#f301" transform="translate(176.3 249.1) rotate(-162) scale(0.91)"/><use href="#f220" transform="translate(321.1 259.5) rotate(5) scale(0.99)"/><use href="#f381" transform="translate(260.6 296.1) rotate(31) scale(1.01)"/><use href="#n381" transform="translate(123.2 270.0) rotate(-125) scale(1.02)"/><use href="#n300" transform="translate(216.9 313.5) rotate(-105) scale(0.93)"/><use href="#n220" transform="translate(296.8 236.7) rotate(42) scale(1.06)"/><use href="#n301" transform="translate(215.1 280.1) rotate(105) scale(0.90)"/><use href="#n221" transform="translate(281.4 270.2) rotate(-6) scale(0.94)"/><use href="#n220" transform="translate(212.6 287.7) rotate(-161) scale(0.87)"/><use href="#f221" transform="translate(201.5 251.5) rotate(-108) scale(0.88)"/><use href="#n380" transform="translate(257.9 261.2) rotate(-22) scale(0.87)"/><use href="#f380" transform="translate(236.3 268.6) rotate(-156) scale(0.90)"/><use href="#f300" transform="translate(306.9 269.4) rotate(37) scale(1.08)"/><use href="#f220" transform="translate(193.3 288.2) rotate(146) scale(0.96)"/><use href="#n300" transform="translate(195.6 269.0) rotate(112) scale(1.09)"/><use href="#n301" transform="translate(129.4 279.8) rotate(151) scale(1.13)"/><use href="#n300" transform="translate(283.5 233.2) rotate(-60) scale(1.08)"/><use href="#f301" transform="translate(270.5 274.5) rotate(-45) scale(0.86)"/><use href="#f381" transform="translate(199.3 271.7) rotate(51) scale(1.03)"/><use href="#n300" transform="translate(260.7 268.2) rotate(-9) scale(0.95)"/><use href="#f301" transform="translate(133.3 278.7) rotate(-163) scale(0.95)"/><use href="#n381" transform="translate(230.4 287.0) rotate(-66) scale(1.07)"/><use href="#f381" transform="translate(273.8 278.3) rotate(-95) scale(1.04)"/><use href="#n221" transform="translate(255.0 237.4) rotate(-77) scale(1.00)"/><use href="#f301" transform="translate(294.0 268.6) rotate(-18) scale(0.95)"/><use href="#f300" transform="translate(255.1 271.2) rotate(-72) scale(1.07)"/><use href="#n381" transform="translate(166.2 255.8) rotate(-153) scale(0.90)"/><use href="#n300" transform="translate(310.2 280.7) rotate(2) scale(1.01)"/><use href="#n300" transform="translate(215.6 285.4) rotate(-143) scale(0.92)"/><use href="#n300" transform="translate(224.9 296.7) rotate(171) scale(1.01)"/><use href="#f301" transform="translate(172.9 249.8) rotate(-95) scale(1.12)"/><use href="#f380" transform="translate(261.9 246.0) rotate(16) scale(1.08)"/><use href="#n381" transform="translate(302.8 299.0) rotate(17) scale(0.93)"/><use href="#n380" transform="translate(308.0 281.9) rotate(-9) scale(1.11)"/><use href="#n220" transform="translate(237.0 308.6) rotate(-128) scale(1.00)"/><use href="#f301" transform="translate(311.6 289.1) rotate(6) scale(1.07)"/><use href="#f301" transform="translate(265.7 231.5) rotate(-46) scale(1.13)"/><use href="#n301" transform="translate(281.8 255.2) rotate(-72) scale(0.86)"/><use href="#n301" transform="translate(237.2 273.5) rotate(-196) scale(0.96)"/><use href="#f301" transform="translate(214.1 276.9) rotate(-71) scale(1.07)"/><use href="#f381" transform="translate(206.6 298.8) rotate(2) scale(0.91)"/><use href="#n220" transform="translate(213.8 295.0) rotate(-29) scale(1.09)"/><use href="#n380" transform="translate(324.5 258.7) rotate(39) scale(0.91)"/><use href="#f220" transform="translate(230.4 255.8) rotate(-47) scale(1.05)"/><use href="#f220" transform="translate(147.9 247.4) rotate(-121) scale(0.96)"/><use href="#n381" transform="translate(292.7 264.4) rotate(34) scale(1.04)"/><use href="#f220" transform="translate(210.6 266.0) rotate(-92) scale(1.00)"/><use href="#n381" transform="translate(232.8 296.8) rotate(117) scale(0.85)"/><use href="#n381" transform="translate(219.4 300.3) rotate(-20) scale(1.08)"/><use href="#n301" transform="translate(184.4 262.4) rotate(-182) scale(1.08)"/><use href="#f221" transform="translate(209.9 261.1) rotate(-111) scale(0.89)"/><use href="#n300" transform="translate(220.6 306.4) rotate(-132) scale(0.89)"/><use href="#n380" transform="translate(176.6 273.4) rotate(127) scale(1.12)"/><use href="#n221" transform="translate(319.5 277.7) rotate(22) scale(0.90)"/><use href="#n220" transform="translate(163.6 296.9) rotate(155) scale(0.97)"/><use href="#f301" transform="translate(207.8 269.7) rotate(-120) scale(1.09)"/><use href="#f380" transform="translate(290.1 259.6) rotate(-74) scale(0.88)"/><use href="#f301" transform="translate(137.6 286.7) rotate(-107) scale(1.03)"/><use href="#n381" transform="translate(266.5 234.6) rotate(-33) scale(1.12)"/><use href="#n301" transform="translate(301.1 284.8) rotate(26) scale(0.88)"/><use href="#f301" transform="translate(288.2 265.6) rotate(-40) scale(1.00)"/><use href="#f301" transform="translate(288.4 267.9) rotate(-8) scale(1.07)"/><use href="#f220" transform="translate(147.5 289.0) rotate(157) scale(1.02)"/><use href="#f380" transform="translate(213.6 252.9) rotate(-120) scale(1.13)"/><use href="#f301" transform="translate(232.4 288.3) rotate(145) scale(0.89)"/><use href="#f301" transform="translate(273.0 274.0) rotate(-39) scale(0.90)"/><use href="#f300" transform="translate(212.0 276.0) rotate(-98) scale(0.89)"/><use href="#n380" transform="translate(315.5 278.1) rotate(41) scale(1.06)"/><use href="#f300" transform="translate(230.3 295.7) rotate(132) scale(1.11)"/><use href="#n221" transform="translate(177.5 262.9) rotate(-134) scale(0.94)"/><use href="#n380" transform="translate(288.9 273.5) rotate(-56) scale(1.09)"/><use href="#f381" transform="translate(252.8 225.9) rotate(-6) scale(1.02)"/><use href="#n300" transform="translate(195.9 291.5) rotate(-112) scale(1.02)"/><use href="#n381" transform="translate(218.5 280.4) rotate(122) scale(1.09)"/><use href="#f381" transform="translate(292.7 255.2) rotate(7) scale(0.99)"/><use href="#n381" transform="translate(207.8 290.4) rotate(147) scale(0.94)"/><use href="#f301" transform="translate(312.9 295.0) rotate(-46) scale(0.87)"/><use href="#n301" transform="translate(181.7 269.7) rotate(-227) scale(1.08)"/><use href="#n300" transform="translate(311.8 294.8) rotate(-63) scale(1.01)"/><use href="#n300" transform="translate(176.0 248.1) rotate(-114) scale(0.94)"/><use href="#n380" transform="translate(243.3 292.9) rotate(136) scale(1.05)"/><use href="#f301" transform="translate(182.9 267.0) rotate(-126) scale(1.09)"/><use href="#f220" transform="translate(279.6 229.6) rotate(-19) scale(0.92)"/><use href="#f300" transform="translate(265.9 267.1) rotate(-87) scale(1.06)"/><use href="#f221" transform="translate(272.8 255.6) rotate(2) scale(1.09)"/><use href="#n301" transform="translate(131.3 226.7) rotate(-204) scale(1.00)"/><use href="#f381" transform="translate(163.8 258.6) rotate(-162) scale(0.90)"/><use href="#f381" transform="translate(192.5 250.6) rotate(-201) scale(0.95)"/><use href="#f221" transform="translate(281.6 270.9) rotate(-19) scale(0.89)"/><use href="#n301" transform="translate(139.9 298.5) rotate(-144) scale(0.86)"/><use href="#f300" transform="translate(254.2 296.2) rotate(-10) scale(1.07)"/><use href="#n381" transform="translate(289.0 305.2) rotate(-49) scale(0.89)"/><use href="#n300" transform="translate(161.0 230.6) rotate(-141) scale(1.00)"/><use href="#f221" transform="translate(240.4 284.0) rotate(33) scale(0.87)"/><use href="#n220" transform="translate(177.3 264.4) rotate(-141) scale(0.93)"/><use href="#n221" transform="translate(202.0 294.6) rotate(-119) scale(1.04)"/><use href="#f300" transform="translate(284.4 238.3) rotate(-42) scale(0.91)"/><use href="#f380" transform="translate(227.4 280.7) rotate(-139) scale(0.86)"/><use href="#n300" transform="translate(208.8 302.9) rotate(-48) scale(0.89)"/><use href="#f380" transform="translate(171.7 259.4) rotate(-138) scale(0.89)"/><use href="#f301" transform="translate(221.5 300.6) rotate(-131) scale(0.90)"/><use href="#n301" transform="translate(177.6 248.6) rotate(-122) scale(0.85)"/><use href="#f381" transform="translate(253.7 267.9) rotate(-63) scale(1.04)"/><use href="#n380" transform="translate(228.6 275.2) rotate(-182) scale(0.96)"/><use href="#f381" transform="translate(216.1 295.7) rotate(-138) scale(0.89)"/><use href="#f381" transform="translate(235.1 266.3) rotate(-127) scale(0.93)"/><use href="#f301" transform="translate(276.8 235.0) rotate(-22) scale(1.13)"/><use href="#n381" transform="translate(186.7 263.8) rotate(-126) scale(1.01)"/><use href="#n300" transform="translate(214.8 300.1) rotate(189) scale(0.95)"/><use href="#f381" transform="translate(290.2 263.4) rotate(-29) scale(1.13)"/><use href="#n220" transform="translate(189.3 300.3) rotate(157) scale(0.94)"/><use href="#n221" transform="translate(243.2 288.3) rotate(-10) scale(0.93)"/><use href="#n301" transform="translate(210.5 292.6) rotate(137) scale(1.02)"/><use href="#f221" transform="translate(274.7 272.6) rotate(-21) scale(1.06)"/><use href="#n300" transform="translate(225.6 244.9) rotate(-117) scale(0.96)"/><use href="#n381" transform="translate(241.1 303.8) rotate(184) scale(0.95)"/><use href="#n301" transform="translate(214.1 250.4) rotate(-58) scale(1.05)"/><use href="#n300" transform="translate(155.7 241.8) rotate(-112) scale(0.90)"/><use href="#n221" transform="translate(274.8 297.7) rotate(25) scale(1.08)"/><use href="#f381" transform="translate(208.3 281.8) rotate(61) scale(1.10)"/><use href="#n381" transform="translate(153.3 273.5) rotate(-107) scale(0.86)"/><use href="#n221" transform="translate(212.0 315.4) rotate(56) scale(0.94)"/><use href="#n301" transform="translate(144.7 297.2) rotate(-142) scale(1.08)"/><use href="#n380" transform="translate(233.7 265.2) rotate(45) scale(1.09)"/><use href="#f301" transform="translate(220.5 275.6) rotate(-141) scale(1.03)"/><use href="#n221" transform="translate(189.4 267.6) rotate(-199) scale(0.95)"/><use href="#f221" transform="translate(225.2 238.4) rotate(-91) scale(1.11)"/><use href="#f300" transform="translate(220.1 296.5) rotate(-161) scale(0.93)"/><use href="#n301" transform="translate(252.2 250.1) rotate(-98) scale(0.99)"/><use href="#n220" transform="translate(236.3 294.2) rotate(74) scale(0.86)"/><use href="#f301" transform="translate(248.2 273.7) rotate(-33) scale(0.89)"/><use href="#n381" transform="translate(242.6 256.4) rotate(-77) scale(1.04)"/><use href="#f220" transform="translate(293.1 285.6) rotate(38) scale(0.98)"/><use href="#n220" transform="translate(252.3 305.6) rotate(-22) scale(1.07)"/><use href="#n381" transform="translate(226.1 303.2) rotate(-167) scale(0.96)"/><use href="#p1" transform="translate(259.2 255.7) rotate(-75) scale(0.89 0.71)"/><use href="#n220" transform="translate(134.6 271.4) rotate(-145) scale(1.11)"/><use href="#n300" transform="translate(264.1 281.5) rotate(37) scale(0.97)"/><use href="#f301" transform="translate(159.0 276.0) rotate(139) scale(1.12)"/><use href="#p2" transform="translate(198.6 239.9) rotate(-109) scale(0.83 0.66)"/><use href="#f301" transform="translate(260.4 275.0) rotate(-25) scale(0.96)"/><use href="#n221" transform="translate(214.0 247.7) rotate(-100) scale(0.86)"/><use href="#p1" transform="translate(217.0 240.8) rotate(-60) scale(0.77 0.62)"/><use href="#n220" transform="translate(185.8 290.0) rotate(-147) scale(0.86)"/><use href="#n220" transform="translate(200.4 267.1) rotate(-78) scale(1.00)"/><use href="#f300" transform="translate(130.3 267.9) rotate(-109) scale(1.01)"/><use href="#p2" transform="translate(285.0 292.0) rotate(-18) scale(0.80 0.64)"/><use href="#n381" transform="translate(293.2 259.6) rotate(-42) scale(0.96)"/><use href="#n380" transform="translate(214.2 269.9) rotate(-17) scale(0.93)"/><use href="#f380" transform="translate(251.3 281.8) rotate(-175) scale(0.87)"/><use href="#f380" transform="translate(188.2 286.2) rotate(-147) scale(0.88)"/><use href="#p1" transform="translate(302.1 295.4) rotate(31) scale(0.79 0.63)"/><use href="#f301" transform="translate(288.8 274.9) rotate(-68) scale(0.98)"/><use href="#n381" transform="translate(120.6 259.3) rotate(-58) scale(1.07)"/><use href="#n301" transform="translate(310.4 274.9) rotate(-53) scale(0.88)"/><use href="#n380" transform="translate(301.5 273.0) rotate(7) scale(0.96)"/><use href="#p0" transform="translate(233.2 249.7) rotate(-66) scale(0.83 0.67)"/><use href="#n381" transform="translate(145.8 291.6) rotate(167) scale(0.94)"/><use href="#n380" transform="translate(235.3 286.2) rotate(-165) scale(0.94)"/><use href="#f381" transform="translate(283.7 259.3) rotate(27) scale(1.01)"/><use href="#n220" transform="translate(128.3 289.6) rotate(-147) scale(1.03)"/><use href="#f221" transform="translate(191.1 243.8) rotate(-140) scale(1.06)"/><use href="#f220" transform="translate(225.4 263.7) rotate(-96) scale(0.86)"/><use href="#n300" transform="translate(216.0 293.3) rotate(-107) scale(1.05)"/><use href="#n300" transform="translate(137.0 286.8) rotate(-167) scale(0.90)"/><use href="#n220" transform="translate(292.3 270.5) rotate(1) scale(0.98)"/><use href="#n381" transform="translate(291.0 304.3) rotate(-9) scale(0.99)"/><use href="#n301" transform="translate(185.0 278.6) rotate(-204) scale(1.08)"/><use href="#p1" transform="translate(148.3 257.9) rotate(-155) scale(1.09 0.87)"/><use href="#p0" transform="translate(204.9 248.3) rotate(-112) scale(1.07 0.86)"/><use href="#n221" transform="translate(264.0 260.3) rotate(-52) scale(0.96)"/><use href="#p1" transform="translate(157.8 220.8) rotate(-137) scale(0.96 0.77)"/><use href="#n301" transform="translate(176.8 249.7) rotate(-173) scale(0.89)"/><use href="#n301" transform="translate(205.0 256.1) rotate(-141) scale(0.87)"/><use href="#n381" transform="translate(150.9 259.8) rotate(-221) scale(1.02)"/><use href="#p1" transform="translate(284.1 240.7) rotate(-64) scale(0.92 0.73)"/><use href="#n300" transform="translate(185.0 235.4) rotate(-132) scale(1.15)"/><use href="#f221" transform="translate(275.8 229.1) rotate(-36) scale(0.87)"/><use href="#n220" transform="translate(197.8 280.3) rotate(-151) scale(1.01)"/><use href="#n221" transform="translate(163.8 292.8) rotate(-115) scale(0.87)"/><use href="#n301" transform="translate(205.3 286.7) rotate(156) scale(1.00)"/><use href="#f301" transform="translate(175.1 265.1) rotate(-138) scale(1.10)"/><use href="#p0" transform="translate(238.2 273.9) rotate(-118) scale(0.77 0.62)"/><use href="#n221" transform="translate(239.1 271.5) rotate(8) scale(0.96)"/><use href="#f301" transform="translate(180.8 276.6) rotate(-117) scale(1.05)"/><use href="#n381" transform="translate(217.9 267.0) rotate(-30) scale(1.00)"/><use href="#n221" transform="translate(271.1 242.7) rotate(-89) scale(1.07)"/><use href="#f300" transform="translate(283.8 272.5) rotate(32) scale(1.02)"/><use href="#p2" transform="translate(280.0 251.7) rotate(5) scale(0.90 0.72)"/><use href="#n300" transform="translate(254.3 284.0) rotate(58) scale(0.98)"/><use href="#n301" transform="translate(148.3 279.9) rotate(141) scale(1.13)"/><use href="#n221" transform="translate(264.3 294.5) rotate(49) scale(1.14)"/><use href="#p2" transform="translate(139.4 272.6) rotate(-211) scale(1.01 0.81)"/><use href="#n380" transform="translate(148.2 243.0) rotate(-151) scale(0.96)"/><use href="#n301" transform="translate(142.0 240.2) rotate(-162) scale(0.96)"/><use href="#p1" transform="translate(219.9 273.3) rotate(-68) scale(0.94 0.75)"/><use href="#n300" transform="translate(313.6 288.2) rotate(44) scale(0.96)"/><use href="#p0" transform="translate(271.7 253.4) rotate(-13) scale(1.05 0.84)"/><use href="#p0" transform="translate(323.2 273.5) rotate(-74) scale(0.75 0.60)"/><use href="#p1" transform="translate(171.6 302.0) rotate(191) scale(0.93 0.74)"/><use href="#p0" transform="translate(162.9 258.6) rotate(-90) scale(0.87 0.70)"/><use href="#p1" transform="translate(201.1 225.5) rotate(-128) scale(0.83 0.67)"/><use href="#p1" transform="translate(309.8 232.2) rotate(-82) scale(0.97 0.78)"/><use href="#p1" transform="translate(268.9 226.6) rotate(-49) scale(0.91 0.73)"/><use href="#p1" transform="translate(283.6 224.3) rotate(-67) scale(0.86 0.69)"/><use href="#p0" transform="translate(223.0 286.3) rotate(-51) scale(0.99 0.79)"/><use href="#p0" transform="translate(168.7 255.0) rotate(-133) scale(0.80 0.64)"/><polygon points="379,320 381,322 396,322 397,322 398,322 399,322 400,323 401,323 415,330 415,329 415,328 416,327 417,326 417,325 418,324 419,324 420,323 421,323 422,322 423,322 442,318 443,318 445,318 446,318 447,318 448,319 449,319 450,320 451,320 452,321 456,324 467,333 467,334 468,334 476,326 476,325 484,318 485,317 486,316 487,316 488,315 489,315 491,315 492,314 493,314 494,315 495,315 510,318 528,322 529,322 530,323 531,323 532,324 533,324 534,325 535,326 537,328 537,328 538,327 539,327 540,326 541,326 541,326 539,323 538,322 538,321 537,320 537,319 536,317 536,316 536,315 536,314 536,313 537,312 537,311 538,310 538,309 539,308 540,307 541,305 539,302 539,301 538,300 538,299 538,297 538,296 538,295 538,294 539,293 539,292 539,291 540,290 541,289 542,288 550,280 546,273 545,272 542,267 535,261 534,260 533,260 533,259 532,258 532,257 531,256 531,254 531,253 531,252 531,251 531,250 532,242 530,234 521,216 520,215 520,214 520,213 519,212 519,210 520,209 520,208 522,199 520,196 519,195 519,194 518,193 518,191 518,190 518,189 518,188 518,187 518,185 518,184 519,183 523,175 522,172 508,168 507,168 492,164 480,167 479,167 478,167 477,167 475,167 468,165 459,168 458,169 456,169 455,169 454,169 453,169 452,168 451,168 449,167 441,163 430,169 428,177 428,178 427,179 427,180 426,181 425,182 415,192 414,205 413,206 410,219 412,228 412,229 412,230 412,231 411,232 411,233 411,234 410,236 409,236 409,237 408,238 407,239 406,240 399,244 400,247 405,258 405,259 406,260 406,261 406,262 406,263 406,264 406,266 406,267 405,268 405,269 404,270 403,271 397,278 399,288 399,289 399,290 399,291 398,292 398,293 397,294 397,295 396,296 385,311" fill="#173726"/><use href="#k221" transform="translate(444.1 270.7) rotate(-160) scale(1.09)"/><use href="#k301" transform="translate(435.5 244.9) rotate(-144) scale(0.94)"/><use href="#k221" transform="translate(419.6 322.0) rotate(-174) scale(1.02)"/><use href="#k380" transform="translate(470.9 270.7) rotate(9) scale(0.97)"/><use href="#k221" transform="translate(469.9 328.3) rotate(-119) scale(0.95)"/><use href="#k221" transform="translate(497.3 158.1) rotate(40) scale(0.80)"/><use href="#k221" transform="translate(459.7 202.2) rotate(-149) scale(1.10)"/><use href="#k381" transform="translate(461.4 335.5) rotate(-77) scale(1.09)"/><use href="#k381" transform="translate(459.6 243.7) rotate(9) scale(1.01)"/><use href="#k380" transform="translate(461.4 207.3) rotate(0) scale(0.96)"/><use href="#k300" transform="translate(455.9 267.9) rotate(-195) scale(0.86)"/><use href="#k301" transform="translate(468.7 162.5) rotate(12) scale(1.07)"/><use href="#k220" transform="translate(463.3 184.7) rotate(-192) scale(0.96)"/><use href="#k300" transform="translate(477.1 310.4) rotate(-145) scale(0.88)"/><use href="#k221" transform="translate(473.3 265.7) rotate(-83) scale(0.90)"/><use href="#k220" transform="translate(436.4 319.6) rotate(-180) scale(1.07)"/><use href="#k220" transform="translate(491.7 199.5) rotate(9) scale(0.99)"/><use href="#k381" transform="translate(459.8 218.9) rotate(-145) scale(1.00)"/><use href="#k221" transform="translate(452.5 301.7) rotate(-99) scale(0.86)"/><use href="#k221" transform="translate(465.8 325.3) rotate(-42) scale(1.10)"/><use href="#k300" transform="translate(464.3 215.4) rotate(-37) scale(1.09)"/><use href="#k301" transform="translate(466.2 267.7) rotate(-204) scale(0.89)"/><use href="#k221" transform="translate(479.2 286.3) rotate(-42) scale(1.03)"/><use href="#k301" transform="translate(478.0 237.3) rotate(-22) scale(1.04)"/><use href="#k300" transform="translate(459.9 186.8) rotate(-203) scale(0.87)"/><use href="#k301" transform="translate(430.1 293.2) rotate(-218) scale(0.93)"/><use href="#k220" transform="translate(522.0 218.9) rotate(-109) scale(1.07)"/><use href="#k301" transform="translate(473.7 287.1) rotate(-102) scale(0.90)"/><use href="#k220" transform="translate(465.0 238.0) rotate(-66) scale(0.97)"/><use href="#k381" transform="translate(442.0 273.8) rotate(-153) scale(0.92)"/><use href="#k300" transform="translate(440.4 281.5) rotate(-151) scale(1.09)"/><use href="#k220" transform="translate(455.3 188.4) rotate(-170) scale(0.93)"/><use href="#k300" transform="translate(494.0 280.8) rotate(6) scale(1.10)"/><use href="#k301" transform="translate(462.2 316.5) rotate(-96) scale(1.06)"/><use href="#k221" transform="translate(461.8 319.8) rotate(-157) scale(0.91)"/><use href="#k380" transform="translate(508.3 298.1) rotate(-36) scale(0.96)"/><use href="#k221" transform="translate(484.8 223.0) rotate(-28) scale(1.08)"/><use href="#k301" transform="translate(485.9 328.9) rotate(-139) scale(0.89)"/><use href="#k300" transform="translate(466.3 334.0) rotate(-118) scale(0.98)"/><use href="#k381" transform="translate(476.4 303.9) rotate(-119) scale(1.06)"/><use href="#k300" transform="translate(481.6 274.4) rotate(-28) scale(0.90)"/><use href="#k300" transform="translate(481.3 273.0) rotate(-0) scale(0.94)"/><use href="#k301" transform="translate(466.7 261.6) rotate(-35) scale(1.07)"/><use href="#k301" transform="translate(510.5 267.2) rotate(12) scale(1.00)"/><use href="#k301" transform="translate(455.0 239.7) rotate(-42) scale(0.86)"/><use href="#k301" transform="translate(478.4 295.7) rotate(-151) scale(0.90)"/><use href="#k381" transform="translate(476.2 251.2) rotate(-156) scale(0.92)"/><use href="#k381" transform="translate(478.0 290.3) rotate(-177) scale(1.05)"/><use href="#k300" transform="translate(472.0 309.7) rotate(-26) scale(0.87)"/><use href="#k221" transform="translate(467.6 256.1) rotate(-141) scale(1.00)"/><use href="#k381" transform="translate(466.9 348.6) rotate(-88) scale(0.99)"/><use href="#k301" transform="translate(499.5 265.4) rotate(-38) scale(0.96)"/><use href="#k300" transform="translate(462.6 193.5) rotate(-139) scale(1.05)"/><use href="#k381" transform="translate(448.0 176.6) rotate(-15) scale(0.94)"/><use href="#k220" transform="translate(434.3 255.7) rotate(-158) scale(1.01)"/><use href="#k220" transform="translate(437.3 321.1) rotate(-184) scale(0.87)"/><use href="#k300" transform="translate(485.6 263.1) rotate(-33) scale(0.91)"/><use href="#k380" transform="translate(467.7 250.0) rotate(-175) scale(0.98)"/><use href="#k301" transform="translate(503.3 290.1) rotate(-44) scale(0.97)"/><use href="#k220" transform="translate(513.4 317.1) rotate(-17) scale(0.91)"/><use href="#k301" transform="translate(483.7 321.1) rotate(-113) scale(0.86)"/><use href="#k380" transform="translate(487.2 184.9) rotate(-197) scale(1.05)"/><use href="#k221" transform="translate(444.8 211.3) rotate(-168) scale(1.07)"/><use href="#k301" transform="translate(472.8 269.1) rotate(-57) scale(1.06)"/><use href="#k301" transform="translate(460.9 234.4) rotate(-65) scale(1.05)"/><use href="#k300" transform="translate(455.1 257.9) rotate(-88) scale(0.98)"/><use href="#k220" transform="translate(442.2 326.4) rotate(-129) scale(0.93)"/><use href="#k301" transform="translate(474.8 205.9) rotate(-76) scale(1.05)"/><use href="#k220" transform="translate(478.7 261.9) rotate(10) scale(1.05)"/><use href="#k380" transform="translate(470.3 322.3) rotate(-38) scale(0.90)"/><use href="#k301" transform="translate(481.8 332.4) rotate(-49) scale(0.87)"/><use href="#k381" transform="translate(481.6 211.8) rotate(-16) scale(1.08)"/><use href="#k380" transform="translate(506.5 288.4) rotate(-25) scale(1.07)"/><use href="#k220" transform="translate(495.3 220.2) rotate(39) scale(0.86)"/><use href="#k300" transform="translate(488.1 238.3) rotate(-24) scale(1.05)"/><use href="#k301" transform="translate(444.2 245.2) rotate(-206) scale(0.92)"/><use href="#k380" transform="translate(441.5 223.9) rotate(-43) scale(1.08)"/><use href="#k220" transform="translate(437.5 242.2) rotate(-181) scale(1.05)"/><use href="#k381" transform="translate(462.7 222.2) rotate(-53) scale(1.01)"/><use href="#k301" transform="translate(449.4 213.4) rotate(-141) scale(1.09)"/><use href="#n221" transform="translate(454.7 208.7) rotate(-10) scale(0.97)"/><use href="#f221" transform="translate(432.3 325.9) rotate(-115) scale(0.80)"/><use href="#f220" transform="translate(483.9 306.4) rotate(44) scale(1.15)"/><use href="#n220" transform="translate(444.0 236.7) rotate(-164) scale(0.90)"/><use href="#n221" transform="translate(531.8 333.1) rotate(-16) scale(1.05)"/><use href="#n300" transform="translate(460.3 260.7) rotate(-17) scale(0.92)"/><use href="#f220" transform="translate(509.8 309.8) rotate(-1) scale(0.90)"/><use href="#f300" transform="translate(470.4 221.5) rotate(17) scale(0.99)"/><use href="#n380" transform="translate(462.2 179.6) rotate(-152) scale(0.92)"/><use href="#f301" transform="translate(487.5 181.2) rotate(-41) scale(0.97)"/><use href="#f300" transform="translate(522.2 290.2) rotate(-26) scale(0.93)"/><use href="#n220" transform="translate(489.5 250.4) rotate(-17) scale(0.92)"/><use href="#n300" transform="translate(461.1 265.8) rotate(-143) scale(0.88)"/><use href="#n381" transform="translate(423.3 266.9) rotate(-140) scale(1.11)"/><use href="#n300" transform="translate(425.7 251.7) rotate(-164) scale(1.12)"/><use href="#f221" transform="translate(531.0 271.8) rotate(-18) scale(0.91)"/><use href="#n301" transform="translate(454.4 229.2) rotate(-181) scale(1.09)"/><use href="#n380" transform="translate(441.1 212.0) rotate(-29) scale(0.99)"/><use href="#f300" transform="translate(469.4 236.7) rotate(-136) scale(1.00)"/><use href="#f220" transform="translate(416.0 263.9) rotate(-186) scale(0.92)"/><use href="#f381" transform="translate(463.9 206.1) rotate(17) scale(0.95)"/><use href="#n380" transform="translate(484.6 232.2) rotate(-174) scale(1.09)"/><use href="#f301" transform="translate(448.4 328.8) rotate(-111) scale(0.99)"/><use href="#f221" transform="translate(460.8 282.9) rotate(-203) scale(1.06)"/><use href="#n300" transform="translate(430.8 322.4) rotate(-170) scale(0.92)"/><use href="#n301" transform="translate(526.2 334.0) rotate(2) scale(0.98)"/><use href="#f221" transform="translate(481.7 246.1) rotate(-22) scale(0.87)"/><use href="#f301" transform="translate(463.7 184.7) rotate(-115) scale(0.97)"/><use href="#f301" transform="translate(492.1 244.9) rotate(-172) scale(1.08)"/><use href="#n301" transform="translate(471.1 179.1) rotate(-45) scale(1.11)"/><use href="#f221" transform="translate(469.4 204.6) rotate(-8) scale(0.93)"/><use href="#n301" transform="translate(474.1 304.9) rotate(136) scale(1.14)"/><use href="#n380" transform="translate(460.1 290.0) rotate(-68) scale(0.90)"/><use href="#f380" transform="translate(516.6 284.7) rotate(-22) scale(0.90)"/><use href="#f380" transform="translate(485.9 248.1) rotate(-164) scale(0.88)"/><use href="#f220" transform="translate(389.8 332.8) rotate(-154) scale(0.98)"/><use href="#f221" transform="translate(522.2 254.9) rotate(2) scale(0.97)"/><use href="#n300" transform="translate(475.7 314.4) rotate(-104) scale(1.07)"/><use href="#n381" transform="translate(428.8 298.1) rotate(-138) scale(1.05)"/><use href="#n301" transform="translate(460.2 220.1) rotate(-173) scale(0.90)"/><use href="#n381" transform="translate(447.0 323.9) rotate(-147) scale(1.07)"/><use href="#f381" transform="translate(487.9 190.6) rotate(-166) scale(1.07)"/><use href="#f220" transform="translate(482.6 222.6) rotate(-31) scale(0.98)"/><use href="#f301" transform="translate(428.1 326.7) rotate(168) scale(1.07)"/><use href="#n301" transform="translate(438.8 318.6) rotate(136) scale(0.95)"/><use href="#f220" transform="translate(412.7 314.7) rotate(-160) scale(1.05)"/><use href="#f380" transform="translate(484.0 230.3) rotate(-138) scale(0.95)"/><use href="#f220" transform="translate(451.3 174.2) rotate(-138) scale(1.04)"/><use href="#f301" transform="translate(513.5 327.6) rotate(-4) scale(1.00)"/><use href="#f300" transform="translate(420.5 254.3) rotate(-169) scale(0.92)"/><use href="#n300" transform="translate(403.2 329.6) rotate(-116) scale(0.88)"/><use href="#f221" transform="translate(459.3 260.9) rotate(-172) scale(0.96)"/><use href="#n301" transform="translate(440.2 244.2) rotate(-140) scale(1.10)"/><use href="#f221" transform="translate(510.2 205.1) rotate(26) scale(1.07)"/><use href="#f301" transform="translate(446.2 210.4) rotate(-205) scale(1.10)"/><use href="#f380" transform="translate(470.9 157.6) rotate(-211) scale(1.00)"/><use href="#n220" transform="translate(475.2 281.6) rotate(-16) scale(0.87)"/><use href="#f220" transform="translate(446.3 168.0) rotate(-174) scale(1.00)"/><use href="#n301" transform="translate(467.2 245.6) rotate(-133) scale(0.88)"/><use href="#n381" transform="translate(444.6 213.1) rotate(-150) scale(1.14)"/><use href="#n301" transform="translate(472.1 236.6) rotate(-198) scale(1.03)"/><use href="#f380" transform="translate(439.3 323.0) rotate(165) scale(1.06)"/><use href="#n301" transform="translate(463.1 229.6) rotate(-43) scale(1.06)"/><use href="#f221" transform="translate(532.9 274.3) rotate(0) scale(1.02)"/><use href="#f381" transform="translate(423.6 294.4) rotate(-150) scale(0.98)"/><use href="#n220" transform="translate(424.5 210.5) rotate(-176) scale(0.96)"/><use href="#n221" transform="translate(445.9 163.8) rotate(-206) scale(0.91)"/><use href="#n381" transform="translate(489.8 324.7) rotate(-24) scale(0.92)"/><use href="#n300" transform="translate(451.2 235.3) rotate(-166) scale(0.93)"/><use href="#f381" transform="translate(495.9 263.5) rotate(-19) scale(1.15)"/><use href="#f301" transform="translate(472.5 306.3) rotate(-160) scale(0.86)"/><use href="#n221" transform="translate(460.9 286.7) rotate(-41) scale(0.90)"/><use href="#f301" transform="translate(531.2 272.2) rotate(19) scale(0.93)"/><use href="#f300" transform="translate(428.7 255.0) rotate(-155) scale(1.06)"/><use href="#n301" transform="translate(444.6 184.8) rotate(-202) scale(1.00)"/><use href="#n301" transform="translate(461.8 342.9) rotate(-174) scale(1.13)"/><use href="#f221" transform="translate(424.6 222.5) rotate(-164) scale(0.95)"/><use href="#n300" transform="translate(485.6 166.4) rotate(-196) scale(1.00)"/><use href="#f300" transform="translate(478.6 192.3) rotate(-141) scale(0.86)"/><use href="#f300" transform="translate(501.4 184.2) rotate(-15) scale(1.04)"/><use href="#n381" transform="translate(488.8 278.5) rotate(-177) scale(1.09)"/><use href="#n301" transform="translate(409.6 314.8) rotate(-155) scale(0.93)"/><use href="#f220" transform="translate(489.9 178.8) rotate(-18) scale(1.02)"/><use href="#n380" transform="translate(466.7 273.6) rotate(-181) scale(0.96)"/><use href="#f380" transform="translate(489.4 316.2) rotate(-132) scale(1.03)"/><use href="#n380" transform="translate(454.8 295.1) rotate(-79) scale(1.08)"/><use href="#n220" transform="translate(474.2 253.0) rotate(-27) scale(0.91)"/><use href="#f301" transform="translate(518.0 300.1) rotate(3) scale(1.12)"/><use href="#f380" transform="translate(459.8 302.4) rotate(18) scale(1.09)"/><use href="#n380" transform="translate(472.2 271.6) rotate(-31) scale(0.85)"/><use href="#n380" transform="translate(464.9 246.8) rotate(-49) scale(0.86)"/><use href="#n300" transform="translate(474.4 183.3) rotate(0) scale(0.98)"/><use href="#f380" transform="translate(472.5 346.8) rotate(-54) scale(1.01)"/><use href="#f301" transform="translate(501.3 221.8) rotate(40) scale(0.91)"/><use href="#n220" transform="translate(429.2 258.1) rotate(-109) scale(0.98)"/><use href="#n220" transform="translate(462.8 174.4) rotate(-127) scale(1.02)"/><use href="#n301" transform="translate(503.6 319.5) rotate(-22) scale(1.03)"/><use href="#f301" transform="translate(498.8 262.8) rotate(42) scale(0.90)"/><use href="#n300" transform="translate(490.9 311.3) rotate(44) scale(0.92)"/><use href="#n380" transform="translate(468.4 263.3) rotate(-176) scale(1.03)"/><use href="#f221" transform="translate(464.5 327.2) rotate(-1) scale(1.12)"/><use href="#n220" transform="translate(482.7 223.0) rotate(-0) scale(1.06)"/><use href="#f380" transform="translate(483.7 241.4) rotate(5) scale(0.97)"/><use href="#f300" transform="translate(481.9 208.7) rotate(-164) scale(1.02)"/><use href="#n301" transform="translate(467.4 242.0) rotate(-225) scale(1.05)"/><use href="#n301" transform="translate(448.0 211.8) rotate(-145) scale(1.01)"/><use href="#n380" transform="translate(493.0 242.9) rotate(-130) scale(0.98)"/><use href="#n381" transform="translate(417.4 319.7) rotate(166) scale(1.10)"/><use href="#n220" transform="translate(389.9 321.1) rotate(-163) scale(0.94)"/><use href="#n300" transform="translate(463.9 288.4) rotate(-178) scale(0.90)"/><use href="#f380" transform="translate(455.1 333.6) rotate(160) scale(0.92)"/><use href="#n300" transform="translate(446.0 329.2) rotate(-47) scale(0.95)"/><use href="#f221" transform="translate(420.2 236.1) rotate(-150) scale(0.90)"/><use href="#n380" transform="translate(453.3 222.8) rotate(-209) scale(1.05)"/><use href="#f381" transform="translate(511.8 286.3) rotate(8) scale(0.96)"/><use href="#n300" transform="translate(489.6 220.3) rotate(-171) scale(0.95)"/><use href="#n300" transform="translate(440.9 288.9) rotate(-190) scale(0.85)"/><use href="#f300" transform="translate(449.1 264.1) rotate(-110) scale(0.87)"/><use href="#n221" transform="translate(466.6 188.1) rotate(-171) scale(0.94)"/><use href="#f221" transform="translate(471.9 264.6) rotate(-22) scale(1.07)"/><use href="#f380" transform="translate(460.7 332.6) rotate(-150) scale(0.97)"/><use href="#n301" transform="translate(463.8 198.9) rotate(-58) scale(1.07)"/><use href="#f301" transform="translate(482.3 235.8) rotate(-47) scale(0.99)"/><use href="#f220" transform="translate(466.6 304.6) rotate(-157) scale(1.07)"/><use href="#n381" transform="translate(469.8 221.0) rotate(-172) scale(0.88)"/><use href="#n381" transform="translate(476.5 214.7) rotate(-139) scale(0.86)"/><use href="#f220" transform="translate(435.6 201.7) rotate(-188) scale(1.05)"/><use href="#f221" transform="translate(465.0 312.2) rotate(-176) scale(0.86)"/><use href="#n220" transform="translate(464.9 289.7) rotate(-82) scale(0.97)"/><use href="#n221" transform="translate(428.2 323.3) rotate(-133) scale(0.80)"/><use href="#f381" transform="translate(424.0 300.4) rotate(-193) scale(0.97)"/><use href="#f380" transform="translate(443.8 188.1) rotate(-42) scale(0.98)"/><use href="#n381" transform="translate(476.1 253.3) rotate(17) scale(0.98)"/><use href="#f300" transform="translate(472.7 287.7) rotate(-171) scale(0.95)"/><use href="#f221" transform="translate(464.4 237.9) rotate(-115) scale(1.07)"/><use href="#n300" transform="translate(441.2 206.9) rotate(-129) scale(1.04)"/><use href="#f381" transform="translate(485.5 326.0) rotate(-19) scale(1.09)"/><use href="#n300" transform="translate(508.5 184.9) rotate(-49) scale(0.91)"/><use href="#f300" transform="translate(427.3 251.3) rotate(-150) scale(1.11)"/><use href="#n221" transform="translate(425.2 309.8) rotate(-198) scale(1.00)"/><use href="#n220" transform="translate(437.9 186.9) rotate(-153) scale(0.98)"/><use href="#n220" transform="translate(439.0 213.3) rotate(-199) scale(0.93)"/><use href="#n220" transform="translate(463.6 261.2) rotate(-179) scale(1.07)"/><use href="#n220" transform="translate(478.7 211.5) rotate(2) scale(1.04)"/><use href="#n301" transform="translate(477.0 239.6) rotate(-80) scale(1.02)"/><use href="#n221" transform="translate(506.9 289.4) rotate(-2) scale(0.99)"/><use href="#n220" transform="translate(458.9 327.0) rotate(-154) scale(0.95)"/><use href="#n301" transform="translate(434.0 236.7) rotate(-87) scale(0.98)"/><use href="#f301" transform="translate(474.7 162.6) rotate(-162) scale(1.11)"/><use href="#f301" transform="translate(483.7 284.5) rotate(-175) scale(1.06)"/><use href="#f221" transform="translate(482.5 240.3) rotate(-14) scale(1.00)"/><use href="#f300" transform="translate(459.2 283.7) rotate(-60) scale(1.02)"/><use href="#n220" transform="translate(464.3 299.2) rotate(-65) scale(0.93)"/><use href="#n301" transform="translate(472.5 204.6) rotate(-183) scale(0.92)"/><use href="#n220" transform="translate(526.6 332.5) rotate(-34) scale(1.14)"/><use href="#n221" transform="translate(456.5 181.0) rotate(-61) scale(1.13)"/><use href="#f301" transform="translate(458.5 209.8) rotate(-120) scale(1.10)"/><use href="#f380" transform="translate(456.7 168.4) rotate(-182) scale(1.00)"/><use href="#n220" transform="translate(426.6 292.5) rotate(-142) scale(0.96)"/><use href="#n381" transform="translate(486.6 324.0) rotate(-20) scale(0.88)"/><use href="#n300" transform="translate(449.7 220.5) rotate(-24) scale(0.90)"/><use href="#f380" transform="translate(457.3 336.8) rotate(-65) scale(1.04)"/><use href="#f301" transform="translate(464.5 336.6) rotate(-80) scale(1.02)"/><use href="#n220" transform="translate(433.1 189.9) rotate(-162) scale(1.00)"/><use href="#n301" transform="translate(505.5 295.4) rotate(11) scale(1.05)"/><use href="#f301" transform="translate(470.8 320.8) rotate(-82) scale(1.05)"/><use href="#n300" transform="translate(431.2 294.8) rotate(-215) scale(0.99)"/><use href="#f380" transform="translate(446.5 207.0) rotate(-182) scale(0.95)"/><use href="#f301" transform="translate(454.8 266.3) rotate(-38) scale(0.89)"/><use href="#f301" transform="translate(433.4 290.1) rotate(-201) scale(1.06)"/><use href="#f220" transform="translate(426.4 323.2) rotate(-162) scale(1.02)"/><use href="#n220" transform="translate(490.3 315.7) rotate(15) scale(1.03)"/><use href="#n381" transform="translate(472.8 190.1) rotate(-37) scale(1.00)"/><use href="#n220" transform="translate(509.7 210.2) rotate(-35) scale(1.01)"/><use href="#n300" transform="translate(495.7 264.9) rotate(-6) scale(1.05)"/><use href="#f301" transform="translate(464.8 257.5) rotate(-88) scale(1.06)"/><use href="#n300" transform="translate(456.9 271.9) rotate(-148) scale(1.05)"/><use href="#f221" transform="translate(500.1 282.9) rotate(-9) scale(1.02)"/><use href="#n380" transform="translate(475.2 190.3) rotate(-51) scale(0.90)"/><use href="#f221" transform="translate(457.9 257.8) rotate(-174) scale(1.07)"/><use href="#n220" transform="translate(472.0 282.6) rotate(-139) scale(0.92)"/><use href="#n381" transform="translate(479.0 239.3) rotate(-131) scale(1.06)"/><use href="#f380" transform="translate(427.1 306.7) rotate(-172) scale(0.91)"/><use href="#f300" transform="translate(530.2 262.8) rotate(42) scale(1.07)"/><use href="#f301" transform="translate(479.7 266.2) rotate(-185) scale(1.04)"/><use href="#n221" transform="translate(516.8 232.8) rotate(-22) scale(1.05)"/><use href="#n221" transform="translate(476.2 250.0) rotate(10) scale(1.05)"/><use href="#n381" transform="translate(441.9 240.5) rotate(-191) scale(0.89)"/><use href="#f221" transform="translate(500.6 217.6) rotate(-28) scale(1.05)"/><use href="#f301" transform="translate(431.8 273.2) rotate(-131) scale(0.87)"/><use href="#f220" transform="translate(460.9 197.6) rotate(-170) scale(1.01)"/><use href="#n221" transform="translate(412.6 304.1) rotate(-161) scale(1.13)"/><use href="#f380" transform="translate(486.4 218.2) rotate(-201) scale(1.04)"/><use href="#n300" transform="translate(445.4 275.1) rotate(-215) scale(0.97)"/><use href="#f220" transform="translate(462.0 326.1) rotate(6) scale(1.08)"/><use href="#n381" transform="translate(485.2 325.8) rotate(-153) scale(1.04)"/><use href="#n380" transform="translate(439.1 295.3) rotate(-168) scale(0.92)"/><use href="#n301" transform="translate(466.8 276.3) rotate(3) scale(1.07)"/><use href="#n301" transform="translate(504.1 190.5) rotate(-57) scale(1.07)"/><use href="#f221" transform="translate(423.8 334.1) rotate(-145) scale(0.80)"/><use href="#f300" transform="translate(479.1 311.5) rotate(9) scale(1.02)"/><use href="#f301" transform="translate(474.9 195.3) rotate(-95) scale(0.94)"/><use href="#n220" transform="translate(427.8 294.9) rotate(-151) scale(0.86)"/><use href="#n220" transform="translate(474.1 241.0) rotate(-146) scale(0.93)"/><use href="#n301" transform="translate(442.5 284.5) rotate(-185) scale(1.07)"/><use href="#f221" transform="translate(508.0 306.3) rotate(-35) scale(0.94)"/><use href="#n300" transform="translate(516.3 309.2) rotate(6) scale(1.10)"/><use href="#f221" transform="translate(487.1 262.7) rotate(31) scale(0.92)"/><use href="#f220" transform="translate(443.5 217.9) rotate(-197) scale(0.94)"/><use href="#f220" transform="translate(474.8 240.8) rotate(-47) scale(0.94)"/><use href="#f381" transform="translate(427.8 327.4) rotate(-167) scale(0.85)"/><use href="#f301" transform="translate(459.9 297.2) rotate(-75) scale(1.08)"/><use href="#n221" transform="translate(473.8 173.2) rotate(-127) scale(0.94)"/><use href="#f220" transform="translate(507.8 190.3) rotate(20) scale(0.96)"/><use href="#n300" transform="translate(469.7 211.9) rotate(-119) scale(1.04)"/><use href="#n220" transform="translate(460.1 188.7) rotate(-135) scale(0.97)"/><use href="#n220" transform="translate(541.4 315.7) rotate(136) scale(0.92)"/><use href="#f221" transform="translate(471.0 264.5) rotate(-161) scale(0.95)"/><use href="#n380" transform="translate(473.9 205.7) rotate(-91) scale(0.89)"/><use href="#n220" transform="translate(453.7 236.2) rotate(-22) scale(1.08)"/><use href="#f381" transform="translate(447.0 331.3) rotate(167) scale(0.98)"/><use href="#f300" transform="translate(493.8 176.4) rotate(-14) scale(0.96)"/><use href="#n300" transform="translate(455.6 255.0) rotate(-170) scale(0.93)"/><use href="#n381" transform="translate(477.1 298.1) rotate(-94) scale(1.04)"/><use href="#f380" transform="translate(482.1 214.0) rotate(-170) scale(0.87)"/><use href="#n221" transform="translate(440.7 241.1) rotate(-164) scale(1.07)"/><use href="#f220" transform="translate(455.4 194.1) rotate(-132) scale(0.98)"/><use href="#n301" transform="translate(474.9 219.7) rotate(40) scale(0.94)"/><use href="#f301" transform="translate(456.1 201.5) rotate(-45) scale(0.93)"/><use href="#n380" transform="translate(483.1 216.6) rotate(-44) scale(0.94)"/><use href="#f300" transform="translate(424.3 256.7) rotate(180) scale(0.97)"/><use href="#n300" transform="translate(498.1 211.7) rotate(-8) scale(0.99)"/><use href="#n380" transform="translate(441.8 308.1) rotate(-191) scale(0.86)"/><use href="#n300" transform="translate(426.9 320.6) rotate(-175) scale(0.99)"/><use href="#f300" transform="translate(451.8 174.5) rotate(-221) scale(1.02)"/><use href="#n301" transform="translate(494.9 321.2) rotate(-21) scale(1.06)"/><use href="#f221" transform="translate(435.2 282.1) rotate(-164) scale(0.89)"/><use href="#n380" transform="translate(465.7 224.1) rotate(-177) scale(1.04)"/><use href="#n381" transform="translate(444.3 296.1) rotate(-162) scale(1.06)"/><use href="#f301" transform="translate(455.2 190.2) rotate(-63) scale(0.98)"/><use href="#n300" transform="translate(463.8 250.0) rotate(-65) scale(1.04)"/><use href="#f301" transform="translate(479.9 311.8) rotate(-17) scale(1.09)"/><use href="#n221" transform="translate(524.4 290.2) rotate(-65) scale(1.03)"/><use href="#f300" transform="translate(495.7 288.6) rotate(-10) scale(0.99)"/><use href="#f381" transform="translate(469.9 249.9) rotate(-45) scale(1.02)"/><use href="#n300" transform="translate(472.2 249.4) rotate(-141) scale(1.05)"/><use href="#p1" transform="translate(521.6 251.2) rotate(-24) scale(0.95 0.76)"/><use href="#n380" transform="translate(497.3 245.4) rotate(-13) scale(1.10)"/><use href="#n381" transform="translate(462.2 222.4) rotate(-27) scale(0.92)"/><use href="#p1" transform="translate(453.0 164.5) rotate(-174) scale(0.95 0.76)"/><use href="#f220" transform="translate(511.7 254.3) rotate(7) scale(0.90)"/><use href="#n300" transform="translate(461.3 163.2) rotate(-25) scale(0.94)"/><use href="#p2" transform="translate(448.2 208.0) rotate(-101) scale(1.06 0.85)"/><use href="#f380" transform="translate(485.5 320.8) rotate(22) scale(1.10)"/><use href="#f381" transform="translate(448.4 207.7) rotate(-167) scale(0.91)"/><use href="#p1" transform="translate(473.8 270.2) rotate(-113) scale(1.01 0.81)"/><use href="#f300" transform="translate(512.0 315.1) rotate(44) scale(1.14)"/><use href="#p0" transform="translate(527.4 268.1) rotate(-20) scale(0.99 0.79)"/><use href="#p2" transform="translate(423.3 306.1) rotate(-220) scale(0.91 0.73)"/><use href="#f301" transform="translate(425.8 275.9) rotate(-195) scale(1.13)"/><use href="#f300" transform="translate(450.4 268.6) rotate(-196) scale(0.98)"/><use href="#p1" transform="translate(489.5 229.8) rotate(-62) scale(1.12 0.90)"/><use href="#n380" transform="translate(399.5 297.2) rotate(136) scale(1.02)"/><use href="#n301" transform="translate(433.3 290.2) rotate(-156) scale(1.03)"/><use href="#f381" transform="translate(490.0 160.4) rotate(9) scale(0.95)"/><use href="#n380" transform="translate(499.0 291.1) rotate(-147) scale(0.91)"/><use href="#p1" transform="translate(482.2 214.6) rotate(-28) scale(0.96 0.77)"/><use href="#p0" transform="translate(452.2 266.8) rotate(-158) scale(1.00 0.80)"/><use href="#f221" transform="translate(402.8 311.7) rotate(-171) scale(1.11)"/><use href="#f381" transform="translate(424.8 285.6) rotate(-172) scale(0.91)"/><use href="#f301" transform="translate(515.1 267.4) rotate(19) scale(1.04)"/><use href="#n301" transform="translate(486.2 190.8) rotate(-130) scale(0.93)"/><use href="#p2" transform="translate(466.6 174.5) rotate(-126) scale(1.16 0.93)"/><use href="#f220" transform="translate(452.5 235.9) rotate(-156) scale(1.01)"/><use href="#n381" transform="translate(426.6 328.6) rotate(-167) scale(1.01)"/><use href="#p2" transform="translate(527.7 249.0) rotate(-23) scale(1.02 0.82)"/><use href="#f300" transform="translate(457.9 217.6) rotate(-152) scale(0.99)"/><use href="#n221" transform="translate(497.9 258.6) rotate(-46) scale(1.06)"/><use href="#n381" transform="translate(491.6 179.3) rotate(4) scale(0.95)"/><use href="#f300" transform="translate(471.5 211.0) rotate(-60) scale(0.87)"/><use href="#p0" transform="translate(475.8 260.8) rotate(-31) scale(1.22 0.98)"/><use href="#f221" transform="translate(459.6 333.6) rotate(181) scale(1.00)"/><use href="#f380" transform="translate(465.4 237.9) rotate(-65) scale(0.89)"/><use href="#n300" transform="translate(477.7 209.9) rotate(8) scale(0.89)"/><use href="#p1" transform="translate(453.3 221.2) rotate(-142) scale(0.97 0.77)"/><use href="#f220" transform="translate(462.7 272.1) rotate(-175) scale(1.10)"/><use href="#p0" transform="translate(479.6 196.1) rotate(-54) scale(1.09 0.87)"/><use href="#p0" transform="translate(494.9 304.1) rotate(-2) scale(1.02 0.81)"/><use href="#f381" transform="translate(484.1 291.0) rotate(-28) scale(0.92)"/><use href="#f300" transform="translate(488.4 290.7) rotate(-145) scale(1.06)"/><use href="#f380" transform="translate(475.7 199.7) rotate(-111) scale(0.98)"/><use href="#p1" transform="translate(437.6 283.2) rotate(-168) scale(0.94 0.75)"/><use href="#n220" transform="translate(437.6 281.3) rotate(-211) scale(0.86)"/><use href="#n301" transform="translate(503.3 291.2) rotate(-8) scale(1.09)"/><use href="#p2" transform="translate(422.0 257.3) rotate(-196) scale(1.07 0.85)"/><use href="#p1" transform="translate(456.5 181.2) rotate(-94) scale(1.03 0.83)"/><use href="#f300" transform="translate(465.1 237.4) rotate(-36) scale(0.99)"/><use href="#n220" transform="translate(424.3 235.8) rotate(-206) scale(1.01)"/><use href="#p0" transform="translate(543.6 282.1) rotate(-0) scale(1.13 0.90)"/><use href="#f301" transform="translate(408.8 323.6) rotate(159) scale(0.94)"/><use href="#f380" transform="translate(481.7 332.8) rotate(185) scale(0.96)"/><use href="#p0" transform="translate(476.8 193.9) rotate(-68) scale(1.12 0.89)"/><use href="#n300" transform="translate(510.7 287.0) rotate(-95) scale(1.09)"/><use href="#p1" transform="translate(527.9 319.0) rotate(16) scale(0.94 0.75)"/><use href="#n381" transform="translate(437.2 264.8) rotate(-152) scale(1.04)"/><use href="#n300" transform="translate(466.4 318.1) rotate(-148) scale(0.95)"/><use href="#p1" transform="translate(464.8 320.5) rotate(-102) scale(1.24 0.99)"/><use href="#p0" transform="translate(493.6 268.6) rotate(-29) scale(1.14 0.91)"/><use href="#f220" transform="translate(471.0 224.0) rotate(-129) scale(0.86)"/><use href="#n380" transform="translate(520.1 306.1) rotate(44) scale(0.95)"/><use href="#p1" transform="translate(496.8 221.6) rotate(-102) scale(1.06 0.85)"/><use href="#f301" transform="translate(450.3 219.5) rotate(-50) scale(1.10)"/><use href="#p0" transform="translate(477.8 230.6) rotate(-80) scale(1.06 0.85)"/><use href="#p1" transform="translate(441.5 288.1) rotate(-92) scale(1.22 0.98)"/><use href="#f300" transform="translate(450.2 262.6) rotate(-55) scale(1.06)"/><use href="#n300" transform="translate(440.0 211.0) rotate(-160) scale(1.12)"/><use href="#f300" transform="translate(478.6 228.2) rotate(-129) scale(1.08)"/><use href="#n301" transform="translate(438.2 219.3) rotate(-179) scale(0.86)"/><use href="#f221" transform="translate(464.3 193.3) rotate(-90) scale(0.91)"/><use href="#f381" transform="translate(492.0 251.9) rotate(-102) scale(1.10)"/><use href="#n301" transform="translate(482.0 291.1) rotate(3) scale(0.97)"/><use href="#f220" transform="translate(462.5 190.1) rotate(-168) scale(1.03)"/><use href="#n221" transform="translate(437.0 331.2) rotate(-104) scale(0.89)"/><use href="#n220" transform="translate(487.6 187.7) rotate(-31) scale(0.95)"/><use href="#n220" transform="translate(458.1 225.8) rotate(-181) scale(1.06)"/><use href="#n220" transform="translate(493.0 177.6) rotate(-56) scale(0.94)"/><use href="#n301" transform="translate(469.4 180.2) rotate(-34) scale(1.00)"/><use href="#n300" transform="translate(452.5 292.1) rotate(-69) scale(1.02)"/><use href="#n301" transform="translate(460.5 279.8) rotate(-24) scale(1.06)"/><use href="#f220" transform="translate(442.2 327.3) rotate(-118) scale(0.80)"/><use href="#p0" transform="translate(431.0 179.0) rotate(-139) scale(0.94 0.75)"/><use href="#n380" transform="translate(472.8 199.4) rotate(-79) scale(1.07)"/><use href="#p2" transform="translate(415.5 254.6) rotate(-162) scale(1.14 0.91)"/><use href="#p2" transform="translate(498.3 170.4) rotate(10) scale(0.95 0.76)"/><use href="#p1" transform="translate(471.2 220.9) rotate(-66) scale(1.17 0.94)"/><use href="#p0" transform="translate(438.7 203.3) rotate(-160) scale(1.05 0.84)"/><use href="#p0" transform="translate(464.3 216.1) rotate(-109) scale(1.18 0.94)"/><use href="#p1" transform="translate(480.2 172.2) rotate(-74) scale(1.21 0.97)"/><use href="#p1" transform="translate(420.1 320.3) rotate(-182) scale(1.17 0.94)"/><use href="#p0" transform="translate(495.1 308.0) rotate(-22) scale(0.95 0.76)"/><use href="#p1" transform="translate(519.3 184.5) rotate(17) scale(1.16 0.93)"/><use href="#p2" transform="translate(530.8 228.0) rotate(4) scale(1.09 0.87)"/><use href="#p2" transform="translate(481.5 308.4) rotate(-44) scale(1.23 0.99)"/><use href="#p0" transform="translate(477.1 287.6) rotate(-77) scale(0.92 0.74)"/><use href="#p1" transform="translate(415.5 321.6) rotate(-187) scale(1.22 0.98)"/><use href="#p1" transform="translate(428.9 175.9) rotate(-141) scale(1.03 0.82)"/><use href="#p2" transform="translate(461.4 238.8) rotate(-80) scale(1.00 0.80)"/><use href="#p1" transform="translate(514.3 189.6) rotate(-62) scale(0.93 0.74)"/><use href="#p1" transform="translate(520.1 228.7) rotate(-16) scale(0.90 0.72)"/><use href="#p2" transform="translate(430.5 323.1) rotate(-187) scale(0.90 0.72)"/><use href="#p1" transform="translate(538.8 279.9) rotate(-4) scale(1.05 0.84)"/><use href="#p2" transform="translate(454.2 254.4) rotate(-140) scale(1.16 0.93)"/><use href="#p0" transform="translate(443.3 201.1) rotate(-157) scale(1.18 0.94)"/><use href="#p1" transform="translate(435.8 316.7) rotate(-187) scale(1.20 0.96)"/><use href="#p0" transform="translate(454.1 304.2) rotate(-192) scale(1.12 0.89)"/><use href="#p0" transform="translate(488.4 204.7) rotate(-44) scale(1.22 0.97)"/><use href="#p2" transform="translate(534.7 268.0) rotate(31) scale(0.96 0.77)"/><use href="#p1" transform="translate(449.9 192.2) rotate(-169) scale(1.04 0.84)"/><use href="#p2" transform="translate(528.1 285.4) rotate(12) scale(1.09 0.87)"/><use href="#p0" transform="translate(490.5 269.1) rotate(8) scale(1.10 0.88)"/><use href="#p2" transform="translate(484.4 250.2) rotate(32) scale(1.24 0.99)"/><polygon points="658,183 655,185 654,185 642,191 640,202 638,224 638,225 638,226 638,227 637,228 632,238 630,261 630,262 630,263 629,264 629,265 628,266 620,280 618,297 618,298 614,322 612,336 616,337 636,339 636,339 656,341 673,340 691,338 703,332 705,320 703,303 696,289 695,288 695,287 695,286 691,266 685,247 685,246 685,245 683,230 677,215 677,214 677,213 676,212 675,195 667,185" fill="#173726"/><use href="#k301" transform="translate(650.5 236.0) rotate(-38) scale(0.87)"/><use href="#k221" transform="translate(662.3 330.8) rotate(-50) scale(1.03)"/><use href="#k301" transform="translate(677.6 232.0) rotate(-110) scale(1.06)"/><use href="#k221" transform="translate(649.5 279.9) rotate(-94) scale(0.87)"/><use href="#k300" transform="translate(641.5 300.0) rotate(-80) scale(0.99)"/><use href="#k381" transform="translate(662.1 327.7) rotate(-90) scale(0.96)"/><use href="#k220" transform="translate(660.7 324.1) rotate(-124) scale(0.90)"/><use href="#k301" transform="translate(667.5 327.8) rotate(-129) scale(1.04)"/><use href="#k380" transform="translate(633.4 230.6) rotate(-11) scale(0.99)"/><use href="#k301" transform="translate(688.0 345.8) rotate(-80) scale(1.01)"/><use href="#k300" transform="translate(645.6 338.8) rotate(-169) scale(1.03)"/><use href="#k381" transform="translate(644.5 237.0) rotate(-45) scale(0.90)"/><use href="#k220" transform="translate(664.4 260.4) rotate(-3) scale(0.96)"/><use href="#k220" transform="translate(654.6 258.4) rotate(-140) scale(0.91)"/><use href="#k301" transform="translate(671.2 277.5) rotate(-87) scale(0.94)"/><use href="#k221" transform="translate(658.8 334.2) rotate(-116) scale(0.80)"/><use href="#k380" transform="translate(646.2 315.3) rotate(-29) scale(1.03)"/><use href="#k301" transform="translate(665.7 269.5) rotate(9) scale(0.88)"/><use href="#k380" transform="translate(662.8 241.6) rotate(-97) scale(0.89)"/><use href="#k300" transform="translate(685.7 321.7) rotate(-80) scale(1.08)"/><use href="#k300" transform="translate(658.3 330.1) rotate(-116) scale(1.05)"/><use href="#k301" transform="translate(641.3 346.6) rotate(-156) scale(1.04)"/><use href="#k220" transform="translate(653.0 324.2) rotate(-62) scale(0.94)"/><use href="#k221" transform="translate(668.3 268.9) rotate(-33) scale(1.06)"/><use href="#k381" transform="translate(650.6 226.6) rotate(-66) scale(0.94)"/><use href="#k300" transform="translate(642.9 342.6) rotate(-167) scale(0.97)"/><use href="#k381" transform="translate(658.6 255.6) rotate(-117) scale(0.89)"/><use href="#k221" transform="translate(651.1 296.6) rotate(-146) scale(0.87)"/><use href="#k221" transform="translate(662.1 347.3) rotate(-143) scale(0.80)"/><use href="#k221" transform="translate(658.8 327.9) rotate(36) scale(0.87)"/><use href="#k381" transform="translate(680.5 307.0) rotate(-134) scale(0.89)"/><use href="#k380" transform="translate(681.5 216.3) rotate(-167) scale(1.03)"/><use href="#k221" transform="translate(642.6 257.0) rotate(-33) scale(0.93)"/><use href="#k381" transform="translate(666.6 250.1) rotate(-116) scale(0.99)"/><use href="#k380" transform="translate(662.3 320.8) rotate(-100) scale(0.91)"/><use href="#k221" transform="translate(668.6 291.2) rotate(-86) scale(0.86)"/><use href="#k301" transform="translate(656.0 300.0) rotate(-117) scale(1.09)"/><use href="#k220" transform="translate(670.5 348.7) rotate(-71) scale(0.80)"/><use href="#k220" transform="translate(654.6 291.8) rotate(-14) scale(1.05)"/><use href="#k380" transform="translate(658.3 317.7) rotate(-176) scale(0.92)"/><use href="#k220" transform="translate(691.1 333.3) rotate(-72) scale(0.98)"/><use href="#k220" transform="translate(662.6 338.6) rotate(-112) scale(0.80)"/><use href="#k381" transform="translate(653.3 290.3) rotate(3) scale(0.89)"/><use href="#k300" transform="translate(657.5 300.8) rotate(-171) scale(1.02)"/><use href="#k380" transform="translate(655.2 261.8) rotate(-112) scale(0.94)"/><use href="#k221" transform="translate(661.9 258.8) rotate(-112) scale(1.01)"/><use href="#k381" transform="translate(663.7 226.7) rotate(-122) scale(1.00)"/><use href="#k301" transform="translate(679.4 340.2) rotate(-35) scale(1.02)"/><use href="#k301" transform="translate(668.5 351.1) rotate(-144) scale(1.05)"/><use href="#k301" transform="translate(657.0 339.5) rotate(-162) scale(0.99)"/><use href="#k300" transform="translate(670.4 234.3) rotate(-130) scale(1.07)"/><use href="#k220" transform="translate(644.8 350.5) rotate(-115) scale(0.80)"/><use href="#k381" transform="translate(658.2 313.6) rotate(-18) scale(0.97)"/><use href="#k380" transform="translate(655.3 280.0) rotate(-33) scale(0.98)"/><use href="#k380" transform="translate(652.0 346.9) rotate(-69) scale(1.08)"/><use href="#k220" transform="translate(663.1 266.5) rotate(-29) scale(0.95)"/><use href="#k220" transform="translate(645.3 292.4) rotate(-66) scale(0.97)"/><use href="#k381" transform="translate(650.5 241.1) rotate(-77) scale(1.00)"/><use href="#k220" transform="translate(680.3 322.1) rotate(8) scale(1.07)"/><use href="#k301" transform="translate(666.3 290.4) rotate(-57) scale(1.00)"/><use href="#k300" transform="translate(645.3 335.3) rotate(-8) scale(0.98)"/><use href="#k220" transform="translate(661.0 339.9) rotate(-49) scale(0.91)"/><use href="#k221" transform="translate(659.4 295.3) rotate(1) scale(0.90)"/><use href="#k221" transform="translate(627.0 299.6) rotate(-101) scale(1.08)"/><use href="#k221" transform="translate(660.2 259.0) rotate(-143) scale(1.06)"/><use href="#k381" transform="translate(679.7 254.0) rotate(-149) scale(0.89)"/><use href="#k300" transform="translate(647.0 309.8) rotate(-109) scale(1.07)"/><use href="#k220" transform="translate(658.8 274.5) rotate(-79) scale(0.95)"/><use href="#k221" transform="translate(665.3 245.5) rotate(-64) scale(0.93)"/><use href="#k301" transform="translate(661.3 352.6) rotate(-38) scale(1.02)"/><use href="#k221" transform="translate(643.2 222.7) rotate(-74) scale(0.92)"/><use href="#k381" transform="translate(639.5 299.2) rotate(-71) scale(0.91)"/><use href="#k221" transform="translate(637.1 341.5) rotate(-131) scale(0.80)"/><use href="#k301" transform="translate(656.8 302.7) rotate(-91) scale(0.86)"/><use href="#k221" transform="translate(658.9 334.2) rotate(-180) scale(1.08)"/><use href="#k221" transform="translate(640.6 281.9) rotate(-105) scale(0.91)"/><use href="#k220" transform="translate(650.4 308.1) rotate(-63) scale(0.86)"/><use href="#k301" transform="translate(646.3 318.8) rotate(-97) scale(1.00)"/><use href="#k220" transform="translate(649.2 226.6) rotate(-114) scale(0.91)"/><use href="#k380" transform="translate(636.2 320.2) rotate(-77) scale(0.96)"/><use href="#k220" transform="translate(654.6 247.5) rotate(6) scale(1.04)"/><use href="#k301" transform="translate(644.4 296.9) rotate(-61) scale(1.02)"/><use href="#k300" transform="translate(658.4 332.2) rotate(-177) scale(1.00)"/><use href="#k301" transform="translate(644.0 342.8) rotate(-25) scale(0.89)"/><use href="#k380" transform="translate(660.4 341.9) rotate(-130) scale(1.01)"/><use href="#k220" transform="translate(629.8 344.7) rotate(-145) scale(0.80)"/><use href="#k300" transform="translate(656.7 306.5) rotate(-131) scale(1.09)"/><use href="#k380" transform="translate(667.6 288.0) rotate(-150) scale(0.93)"/><use href="#k380" transform="translate(659.9 313.5) rotate(-53) scale(0.99)"/><use href="#k301" transform="translate(665.8 346.0) rotate(-115) scale(0.89)"/><use href="#f380" transform="translate(636.7 317.5) rotate(9) scale(0.98)"/><use href="#f300" transform="translate(642.2 340.7) rotate(-76) scale(1.05)"/><use href="#n380" transform="translate(663.1 284.0) rotate(-152) scale(0.98)"/><use href="#f381" transform="translate(669.6 266.1) rotate(-148) scale(1.10)"/><use href="#f220" transform="translate(652.3 349.3) rotate(-61) scale(0.80)"/><use href="#f301" transform="translate(666.9 217.3) rotate(-163) scale(1.11)"/><use href="#n301" transform="translate(627.6 341.8) rotate(-161) scale(0.93)"/><use href="#n220" transform="translate(661.5 302.5) rotate(-115) scale(1.05)"/><use href="#n220" transform="translate(669.1 348.0) rotate(-27) scale(0.80)"/><use href="#f301" transform="translate(676.2 211.8) rotate(-133) scale(1.01)"/><use href="#n221" transform="translate(665.9 225.7) rotate(-108) scale(1.06)"/><use href="#f381" transform="translate(652.1 229.5) rotate(-59) scale(1.06)"/><use href="#n301" transform="translate(668.9 329.4) rotate(-128) scale(1.02)"/><use href="#n301" transform="translate(654.7 304.6) rotate(-43) scale(1.01)"/><use href="#f300" transform="translate(640.9 281.9) rotate(-164) scale(0.99)"/><use href="#n220" transform="translate(636.0 297.8) rotate(-166) scale(0.93)"/><use href="#n300" transform="translate(649.7 230.3) rotate(-31) scale(0.85)"/><use href="#f301" transform="translate(641.9 294.2) rotate(-93) scale(1.10)"/><use href="#n301" transform="translate(651.3 226.8) rotate(-51) scale(1.03)"/><use href="#f300" transform="translate(674.0 311.6) rotate(37) scale(1.06)"/><use href="#f380" transform="translate(650.4 291.4) rotate(-39) scale(1.02)"/><use href="#n300" transform="translate(636.4 334.5) rotate(-165) scale(1.06)"/><use href="#n221" transform="translate(641.7 278.5) rotate(-37) scale(1.04)"/><use href="#n300" transform="translate(648.7 257.9) rotate(-35) scale(1.03)"/><use href="#n221" transform="translate(646.7 252.7) rotate(-40) scale(0.91)"/><use href="#f300" transform="translate(645.8 301.3) rotate(-139) scale(0.86)"/><use href="#n301" transform="translate(652.2 329.6) rotate(0) scale(0.91)"/><use href="#n300" transform="translate(652.7 230.6) rotate(-24) scale(1.12)"/><use href="#f220" transform="translate(649.6 333.7) rotate(-128) scale(0.94)"/><use href="#f380" transform="translate(664.8 229.2) rotate(-176) scale(0.91)"/><use href="#f300" transform="translate(636.7 271.7) rotate(-51) scale(0.96)"/><use href="#n221" transform="translate(654.8 213.9) rotate(-133) scale(0.87)"/><use href="#n381" transform="translate(652.8 341.4) rotate(13) scale(0.92)"/><use href="#f301" transform="translate(678.3 325.0) rotate(-45) scale(1.00)"/><use href="#n301" transform="translate(673.7 303.8) rotate(-18) scale(0.91)"/><use href="#n300" transform="translate(655.4 202.5) rotate(-34) scale(0.98)"/><use href="#n381" transform="translate(633.8 348.1) rotate(4) scale(1.11)"/><use href="#f300" transform="translate(678.5 332.5) rotate(6) scale(1.08)"/><use href="#n300" transform="translate(654.2 308.5) rotate(-142) scale(1.01)"/><use href="#n221" transform="translate(664.7 321.4) rotate(-106) scale(1.02)"/><use href="#f300" transform="translate(669.3 308.2) rotate(-30) scale(0.86)"/><use href="#f381" transform="translate(648.4 299.1) rotate(-153) scale(1.02)"/><use href="#f221" transform="translate(652.7 204.3) rotate(-87) scale(1.09)"/><use href="#n300" transform="translate(662.2 334.4) rotate(-31) scale(0.88)"/><use href="#n380" transform="translate(645.7 239.1) rotate(2) scale(1.13)"/><use href="#n221" transform="translate(632.9 303.6) rotate(-174) scale(1.02)"/><use href="#f381" transform="translate(646.7 299.5) rotate(-2) scale(0.95)"/><use href="#n221" transform="translate(684.9 293.4) rotate(-39) scale(0.91)"/><use href="#n300" transform="translate(644.4 253.9) rotate(19) scale(1.05)"/><use href="#n380" transform="translate(661.5 260.5) rotate(-39) scale(1.10)"/><use href="#n380" transform="translate(675.3 285.0) rotate(-126) scale(1.06)"/><use href="#f300" transform="translate(677.7 275.2) rotate(-165) scale(1.03)"/><use href="#f380" transform="translate(646.2 298.1) rotate(-88) scale(1.06)"/><use href="#f221" transform="translate(670.2 304.8) rotate(-12) scale(1.00)"/><use href="#f380" transform="translate(684.4 344.8) rotate(-187) scale(1.03)"/><use href="#f221" transform="translate(628.3 341.2) rotate(-119) scale(1.09)"/><use href="#n220" transform="translate(690.8 321.4) rotate(11) scale(1.05)"/><use href="#f300" transform="translate(656.5 198.3) rotate(-6) scale(0.97)"/><use href="#n221" transform="translate(629.3 345.7) rotate(-171) scale(1.15)"/><use href="#n220" transform="translate(665.9 295.0) rotate(-70) scale(0.95)"/><use href="#n220" transform="translate(664.3 232.9) rotate(-60) scale(0.86)"/><use href="#n381" transform="translate(669.2 340.1) rotate(-35) scale(1.07)"/><use href="#f220" transform="translate(667.6 330.8) rotate(-161) scale(1.07)"/><use href="#f221" transform="translate(665.8 245.9) rotate(-44) scale(1.03)"/><use href="#n300" transform="translate(645.5 258.9) rotate(-66) scale(0.97)"/><use href="#f220" transform="translate(636.9 303.1) rotate(-104) scale(1.03)"/><use href="#n220" transform="translate(665.0 288.5) rotate(-107) scale(1.01)"/><use href="#f221" transform="translate(654.4 211.2) rotate(-162) scale(0.88)"/><use href="#f381" transform="translate(643.7 344.3) rotate(-92) scale(1.00)"/><use href="#n220" transform="translate(638.2 209.3) rotate(-20) scale(0.80)"/><use href="#n301" transform="translate(641.5 327.1) rotate(-10) scale(1.05)"/><use href="#n300" transform="translate(680.5 323.9) rotate(30) scale(1.05)"/><use href="#n381" transform="translate(652.1 230.2) rotate(-83) scale(0.94)"/><use href="#f220" transform="translate(654.8 205.1) rotate(11) scale(0.91)"/><use href="#n301" transform="translate(657.8 284.5) rotate(-59) scale(0.94)"/><use href="#n381" transform="translate(648.4 293.9) rotate(-143) scale(0.86)"/><use href="#n220" transform="translate(658.4 296.6) rotate(-64) scale(0.88)"/><use href="#n381" transform="translate(663.2 247.4) rotate(-138) scale(0.96)"/><use href="#f221" transform="translate(678.2 263.7) rotate(-40) scale(1.08)"/><use href="#f380" transform="translate(656.6 351.4) rotate(-30) scale(1.03)"/><use href="#n381" transform="translate(672.2 341.9) rotate(-157) scale(1.06)"/><use href="#f221" transform="translate(639.5 285.4) rotate(-188) scale(1.01)"/><use href="#f300" transform="translate(660.3 291.3) rotate(-157) scale(0.94)"/><use href="#n221" transform="translate(642.4 292.2) rotate(-199) scale(0.94)"/><use href="#n300" transform="translate(645.6 213.6) rotate(-47) scale(1.02)"/><use href="#f380" transform="translate(668.1 240.8) rotate(-176) scale(1.14)"/><use href="#n221" transform="translate(638.9 349.9) rotate(-138) scale(0.80)"/><use href="#f221" transform="translate(638.2 348.3) rotate(-92) scale(0.80)"/><use href="#f381" transform="translate(641.2 325.0) rotate(-2) scale(0.98)"/><use href="#n220" transform="translate(656.3 332.6) rotate(-44) scale(1.03)"/><use href="#f301" transform="translate(652.8 244.8) rotate(-103) scale(0.92)"/><use href="#n221" transform="translate(667.9 352.0) rotate(-104) scale(0.80)"/><use href="#f301" transform="translate(640.2 341.7) rotate(-117) scale(1.07)"/><use href="#n220" transform="translate(665.2 257.8) rotate(-75) scale(0.89)"/><use href="#n300" transform="translate(660.2 210.8) rotate(-130) scale(1.03)"/><use href="#n221" transform="translate(637.3 269.9) rotate(-142) scale(0.92)"/><use href="#f381" transform="translate(655.9 338.7) rotate(170) scale(1.07)"/><use href="#f221" transform="translate(643.3 299.3) rotate(-66) scale(0.98)"/><use href="#f301" transform="translate(676.7 286.2) rotate(-34) scale(0.92)"/><use href="#n221" transform="translate(656.0 342.6) rotate(-29) scale(0.91)"/><use href="#f301" transform="translate(657.6 221.8) rotate(-76) scale(1.09)"/><use href="#f300" transform="translate(663.1 317.7) rotate(-58) scale(0.96)"/><use href="#n221" transform="translate(637.2 281.2) rotate(-143) scale(0.99)"/><use href="#n220" transform="translate(657.3 274.7) rotate(-38) scale(0.95)"/><use href="#n380" transform="translate(653.4 251.3) rotate(-109) scale(1.05)"/><use href="#n300" transform="translate(649.4 274.5) rotate(-31) scale(0.92)"/><use href="#f221" transform="translate(653.2 199.2) rotate(-36) scale(0.90)"/><use href="#f300" transform="translate(659.7 213.4) rotate(-107) scale(0.99)"/><use href="#n380" transform="translate(660.5 264.3) rotate(-158) scale(1.10)"/><use href="#n300" transform="translate(651.8 344.6) rotate(-103) scale(1.01)"/><use href="#f221" transform="translate(646.9 300.0) rotate(-165) scale(1.07)"/><use href="#f221" transform="translate(662.9 343.3) rotate(-78) scale(0.80)"/><use href="#n221" transform="translate(662.2 246.4) rotate(-159) scale(0.98)"/><use href="#n300" transform="translate(685.8 232.5) rotate(-104) scale(1.08)"/><use href="#n221" transform="translate(654.6 338.1) rotate(-205) scale(0.93)"/><use href="#n221" transform="translate(684.1 279.8) rotate(-50) scale(1.04)"/><use href="#f380" transform="translate(633.3 331.9) rotate(-48) scale(0.90)"/><use href="#n381" transform="translate(668.2 322.5) rotate(30) scale(0.99)"/><use href="#f221" transform="translate(663.4 296.0) rotate(-28) scale(1.06)"/><use href="#n380" transform="translate(646.4 322.7) rotate(-54) scale(0.96)"/><use href="#n301" transform="translate(645.7 253.9) rotate(-24) scale(1.06)"/><use href="#f301" transform="translate(644.3 294.0) rotate(-91) scale(0.98)"/><use href="#f220" transform="translate(632.5 321.5) rotate(-153) scale(1.09)"/><use href="#f381" transform="translate(671.0 218.8) rotate(-91) scale(1.03)"/><use href="#f300" transform="translate(648.0 295.0) rotate(-155) scale(0.95)"/><use href="#f220" transform="translate(656.8 347.9) rotate(-140) scale(0.88)"/><use href="#n221" transform="translate(634.6 292.9) rotate(-176) scale(1.11)"/><use href="#f381" transform="translate(662.7 235.6) rotate(-154) scale(0.99)"/><use href="#n301" transform="translate(663.6 236.2) rotate(-80) scale(1.00)"/><use href="#f300" transform="translate(646.7 301.7) rotate(-30) scale(1.10)"/><use href="#n221" transform="translate(662.1 313.4) rotate(-30) scale(0.94)"/><use href="#n301" transform="translate(641.3 327.8) rotate(-165) scale(1.14)"/><use href="#n221" transform="translate(637.9 249.8) rotate(-133) scale(0.98)"/><use href="#n220" transform="translate(643.9 292.7) rotate(-134) scale(1.07)"/><use href="#f381" transform="translate(659.0 250.6) rotate(-40) scale(1.02)"/><use href="#n220" transform="translate(675.1 282.0) rotate(-17) scale(0.85)"/><use href="#n300" transform="translate(637.3 345.9) rotate(179) scale(1.01)"/><use href="#f221" transform="translate(653.7 304.3) rotate(-86) scale(1.09)"/><use href="#f301" transform="translate(636.9 327.1) rotate(-145) scale(0.97)"/><use href="#f301" transform="translate(661.7 212.3) rotate(-119) scale(0.91)"/><use href="#n301" transform="translate(644.5 285.2) rotate(-46) scale(1.04)"/><use href="#n380" transform="translate(648.0 213.4) rotate(-48) scale(1.04)"/><use href="#f221" transform="translate(640.5 247.6) rotate(-36) scale(1.09)"/><use href="#n301" transform="translate(659.0 237.5) rotate(-101) scale(0.89)"/><use href="#n300" transform="translate(656.8 221.3) rotate(-28) scale(1.10)"/><use href="#f380" transform="translate(656.2 319.0) rotate(-184) scale(1.03)"/><use href="#n221" transform="translate(644.8 306.6) rotate(-150) scale(1.06)"/><use href="#f220" transform="translate(664.9 341.8) rotate(-70) scale(1.10)"/><use href="#n220" transform="translate(665.3 329.8) rotate(-87) scale(1.09)"/><use href="#f221" transform="translate(661.0 257.9) rotate(-83) scale(1.06)"/><use href="#f301" transform="translate(661.3 297.2) rotate(-174) scale(0.92)"/><use href="#f301" transform="translate(665.9 192.8) rotate(-173) scale(0.96)"/><use href="#f301" transform="translate(648.7 326.9) rotate(-80) scale(0.92)"/><use href="#n301" transform="translate(654.0 272.8) rotate(-114) scale(0.93)"/><use href="#n380" transform="translate(642.3 294.5) rotate(-47) scale(0.96)"/><use href="#f381" transform="translate(662.6 316.2) rotate(-29) scale(1.06)"/><use href="#f381" transform="translate(651.6 347.0) rotate(3) scale(1.07)"/><use href="#n380" transform="translate(670.2 322.0) rotate(-9) scale(1.12)"/><use href="#n301" transform="translate(673.0 289.8) rotate(-7) scale(1.08)"/><use href="#n220" transform="translate(647.5 265.6) rotate(-37) scale(1.04)"/><use href="#n300" transform="translate(668.1 269.7) rotate(30) scale(0.85)"/><use href="#f301" transform="translate(680.9 310.4) rotate(-27) scale(1.01)"/><use href="#n301" transform="translate(666.5 319.8) rotate(-15) scale(1.02)"/><use href="#p2" transform="translate(695.7 323.7) rotate(-27) scale(0.84 0.67)"/><use href="#n220" transform="translate(650.5 211.2) rotate(-143) scale(1.03)"/><use href="#p1" transform="translate(633.6 278.2) rotate(-120) scale(0.96 0.76)"/><use href="#p0" transform="translate(683.0 330.9) rotate(-53) scale(0.81 0.65)"/><use href="#n220" transform="translate(650.2 345.5) rotate(-109) scale(0.80)"/><use href="#p2" transform="translate(678.3 251.7) rotate(13) scale(0.95 0.76)"/><use href="#n300" transform="translate(643.5 347.2) rotate(-25) scale(1.01)"/><use href="#p2" transform="translate(666.9 296.0) rotate(-26) scale(1.03 0.83)"/><use href="#n221" transform="translate(643.1 303.0) rotate(-178) scale(1.04)"/><use href="#n301" transform="translate(660.4 331.4) rotate(-146) scale(1.03)"/><use href="#p0" transform="translate(615.5 306.5) rotate(-154) scale(0.84 0.67)"/><use href="#n300" transform="translate(682.1 319.9) rotate(-200) scale(0.98)"/><use href="#f381" transform="translate(654.1 304.7) rotate(7) scale(0.89)"/><use href="#f381" transform="translate(658.6 337.6) rotate(-74) scale(1.02)"/><use href="#n300" transform="translate(647.5 331.5) rotate(150) scale(1.02)"/><use href="#p0" transform="translate(656.3 315.9) rotate(-79) scale(0.79 0.63)"/><use href="#f380" transform="translate(654.2 342.8) rotate(-154) scale(0.90)"/><use href="#f301" transform="translate(665.7 295.4) rotate(-7) scale(0.99)"/><use href="#f221" transform="translate(667.1 202.9) rotate(-109) scale(0.94)"/><use href="#f381" transform="translate(662.8 291.1) rotate(-132) scale(1.04)"/><use href="#f300" transform="translate(668.0 256.6) rotate(-135) scale(1.07)"/><use href="#n221" transform="translate(689.1 318.6) rotate(-28) scale(1.03)"/><use href="#f220" transform="translate(645.5 266.8) rotate(-94) scale(1.02)"/><use href="#f380" transform="translate(655.6 290.9) rotate(-185) scale(0.87)"/><use href="#p2" transform="translate(672.3 237.4) rotate(-58) scale(1.02 0.81)"/><use href="#f300" transform="translate(648.5 331.9) rotate(-87) scale(1.06)"/><use href="#n301" transform="translate(673.3 333.9) rotate(7) scale(0.95)"/><use href="#n300" transform="translate(656.2 337.7) rotate(-27) scale(1.00)"/><use href="#f220" transform="translate(658.8 217.0) rotate(-141) scale(0.87)"/><use href="#n300" transform="translate(656.9 254.5) rotate(-108) scale(0.99)"/><use href="#f380" transform="translate(642.6 262.2) rotate(-69) scale(1.04)"/><use href="#f221" transform="translate(627.6 346.6) rotate(-130) scale(1.01)"/><use href="#n301" transform="translate(665.1 208.0) rotate(-94) scale(1.10)"/><use href="#f301" transform="translate(670.3 200.6) rotate(-138) scale(0.94)"/><use href="#n301" transform="translate(653.9 252.6) rotate(-39) scale(1.08)"/><use href="#f221" transform="translate(639.1 194.6) rotate(-19) scale(1.07)"/><use href="#n380" transform="translate(650.9 301.2) rotate(-130) scale(1.01)"/><use href="#n300" transform="translate(661.1 335.6) rotate(-50) scale(1.07)"/><use href="#p1" transform="translate(658.2 181.2) rotate(-103) scale(0.96 0.77)"/><use href="#n301" transform="translate(671.8 266.6) rotate(-78) scale(0.91)"/><use href="#p2" transform="translate(651.6 196.8) rotate(-108) scale(0.95 0.76)"/><use href="#p1" transform="translate(629.7 336.2) rotate(-106) scale(0.76 0.61)"/><use href="#p2" transform="translate(645.3 302.3) rotate(-135) scale(0.95 0.76)"/><use href="#p1" transform="translate(678.9 198.5) rotate(-81) scale(1.05 0.84)"/><use href="#p0" transform="translate(671.1 201.1) rotate(-78) scale(0.80 0.64)"/><use href="#p0" transform="translate(681.9 267.9) rotate(3) scale(0.92 0.73)"/><use href="#p1" transform="translate(683.4 293.9) rotate(-55) scale(1.09 0.87)"/><use href="#p2" transform="translate(672.8 184.4) rotate(-55) scale(0.85 0.68)"/><use href="#p1" transform="translate(621.3 321.4) rotate(-129) scale(0.85 0.68)"/><use href="#p1" transform="translate(633.8 238.4) rotate(-140) scale(1.00 0.80)"/><use href="#p2" transform="translate(626.9 259.5) rotate(-161) scale(0.75 0.60)"/><use href="#p0" transform="translate(676.0 276.4) rotate(-12) scale(1.00 0.80)"/><use href="#p1" transform="translate(675.7 221.5) rotate(-35) scale(0.78 0.62)"/><path d="M656,186L655.5,137M656.0,182.0l-5.8,-5.7M656.0,182.0l5.5,-7.1M656.0,179.8l-5.6,-6.3M656.0,179.8l6.0,-6.0M656.0,176.9l-4.4,-6.0M656.0,176.9l5.4,-6.3M656.0,174.6l-5.2,-7.3M656.0,174.6l5.7,-6.2M656.0,172.4l-4.6,-5.7M656.0,172.4l5.3,-5.7M656.0,170.1l-4.9,-6.9M656.0,170.1l4.6,-5.9M656.0,167.4l-6.5,-6.3M656.0,167.4l5.1,-6.2M656.0,164.5l-4.7,-5.3M656.0,164.5l5.6,-7.6M656.0,161.7l-4.4,-5.6M656.0,161.7l4.7,-5.6M656.0,159.3l-4.1,-5.9M656.0,159.3l6.3,-6.3M656.0,157.1l-5.1,-6.6M656.0,157.1l5.9,-7.2M656.0,154.1l-4.9,-7.0M656.0,154.1l5.0,-7.0M656.0,151.4l-6.2,-6.7M656.0,151.4l5.2,-6.2M656.0,149.0l-5.4,-7.1M656.0,149.0l5.0,-5.5M656.0,146.8l-5.0,-5.7M656.0,146.8l6.1,-5.4M656.0,143.9l-4.8,-5.8M656.0,143.9l5.6,-6.7" stroke="#316a4d" stroke-width="1.1" fill="none"/><path d="M658.7,178.5l2.7,-3.5M653.2,176.6l-2.8,-3.2M659.0,176.8l3.0,-3.0M653.8,173.9l-2.2,-3.0M658.7,173.8l2.7,-3.1M653.7,169.5l-2.3,-2.9M658.7,169.6l2.7,-2.8M658.3,167.2l2.3,-2.9M652.8,164.3l-3.2,-3.2M658.6,164.4l2.6,-3.1M658.8,160.7l2.8,-3.8M658.4,158.9l2.4,-2.8M659.1,156.2l3.1,-3.2M653.4,153.7l-2.6,-3.3M659.0,153.5l3.0,-3.6M653.6,150.6l-2.4,-3.5M658.5,150.6l2.5,-3.5M653.3,145.4l-2.7,-3.6M658.5,146.2l2.5,-2.8M653.5,144.0l-2.5,-2.8M653.6,141.1l-2.4,-2.9M658.8,140.6l2.8,-3.4" stroke="#dce5e0" stroke-width="0.9" fill="none" opacity="0.8"/></g>
<path d="M511,512.5 L392,546 Q347,560 327,603" fill="none" stroke="#1c211f" stroke-width="7.5"/><path d="M511,497.8 L392,541 Q342,557 319,603" fill="none" stroke="#1c211f" stroke-width="8"/><path d="M534,515.3 L668,552 Q712,570 716,603" fill="none" stroke="#1c211f" stroke-width="7.5"/><path d="M534,495.7 L680,552 Q722,570 724,603" fill="none" stroke="#1c211f" stroke-width="8"/><path d="M511,561 L329,592 M511,575 L329,597.5 M534,559.5 L716,600 M534,573.5 L716,603" fill="none" stroke="#1c211f" stroke-width="2.2"/><rect x="311" y="600" width="21" height="13" rx="1.5" fill="#1c211f"/><rect x="713" y="602" width="16.5" height="14" rx="1.5" fill="#1c211f"/><rect x="512.5" y="470.5" width="21.5" height="112" rx="3" fill="#1c211f"/><rect x="510" y="565" width="25.5" height="18" rx="2" fill="#1f2422"/><path d="M511,566.5L535,566.5" stroke="#3c423f" stroke-width="1"/><circle cx="526.6" cy="477.4" r="2.3" fill="none" stroke="#5a605c" stroke-width="1"/><path d="M527,486L527,560" stroke="#333936" stroke-width="1"/><path d="M500,504 L400,540 M545,505 L660,548" stroke="#3a403d" stroke-width="1" opacity="0.7"/>
<use href="#screw" transform="translate(124.4 501.5)"/><use href="#screw" transform="translate(186.9 501.5)"/><use href="#screw" transform="translate(248.2 501.5)"/>
</svg>
<div class="t" style="left:454.5px;top:15.9px;font-size:40px;letter-spacing:0.5px;-webkit-text-stroke:1.6px #f4fbf2;color:#f4fbf2">Product</div><div class="t" style="left:605px;top:15.9px;font-size:40px;letter-spacing:-0.9px;-webkit-text-stroke:1.6px #f4fbf2;color:#f4fbf2">Package</div>
<div class="t" style="left:164px;top:394.2px;font-size:36px;letter-spacing:0.5px;color:#29652f">Part A</div>
<div class="t" style="left:412.2px;top:395.5px;font-size:36px;letter-spacing:0.5px;color:#29652f">Part B</div>
<div class="t" style="left:602.9px;top:395.5px;font-size:36px;letter-spacing:0.2px;color:#29652f">Part C</div>
<div class="t" style="left:119.6px;top:616px;font-size:29px;letter-spacing:-1.2px;color:#2a552c">3 X Screws</div>
<div class="t" style="left:462px;top:615.8px;font-size:29px;letter-spacing:-0.7px;color:#2a552c">Metal Base</div>
</body></html>
